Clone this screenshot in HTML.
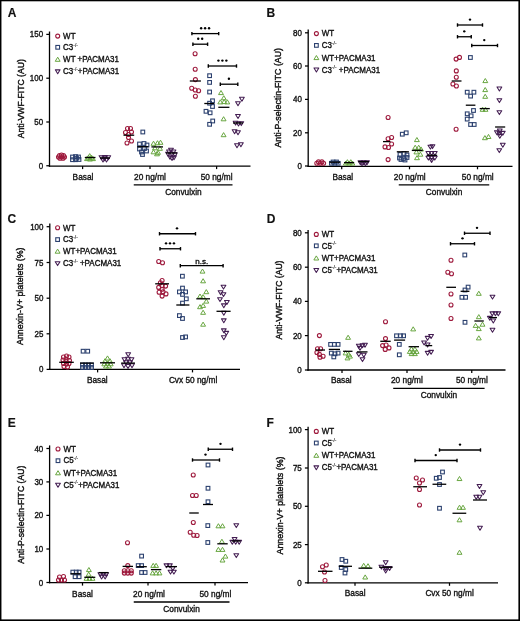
<!DOCTYPE html>
<html><head><meta charset="utf-8"><style>
html,body{margin:0;padding:0;background:#fff;}
svg{display:block;font-family:"Liberation Sans", sans-serif;}
text{-webkit-font-smoothing:antialiased;stroke:#111;stroke-width:0.34px;paint-order:stroke;}
</style></head><body>
<svg style="will-change:transform" width="520" height="621" viewBox="0 0 520 621">
<rect x="0" y="0" width="520" height="621" fill="#fff"/>
<text x="7.7" y="17.1" font-size="12" text-anchor="start" font-weight="bold" fill="#111" style="stroke-width:0.15px">A</text>
<line x1="49.5" y1="31.5" x2="49.5" y2="166.75" stroke="#000" stroke-width="1.3"/>
<line x1="46.3" y1="34.4" x2="49.5" y2="34.4" stroke="#000" stroke-width="1.25"/>
<text transform="translate(43.2,37.4) scale(1,1.09)" font-size="8" text-anchor="end" font-weight="normal" fill="#111">150</text>
<line x1="46.3" y1="78.2" x2="49.5" y2="78.2" stroke="#000" stroke-width="1.25"/>
<text transform="translate(43.2,81.2) scale(1,1.09)" font-size="8" text-anchor="end" font-weight="normal" fill="#111">100</text>
<line x1="46.3" y1="122" x2="49.5" y2="122" stroke="#000" stroke-width="1.25"/>
<text transform="translate(43.2,125) scale(1,1.09)" font-size="8" text-anchor="end" font-weight="normal" fill="#111">50</text>
<line x1="46.3" y1="165.75" x2="49.5" y2="165.75" stroke="#000" stroke-width="1.25"/>
<text transform="translate(43.2,168.75) scale(1,1.09)" font-size="8" text-anchor="end" font-weight="normal" fill="#111">0</text>
<line x1="48.85" y1="166.1" x2="250.5" y2="166.1" stroke="#000" stroke-width="1.3"/>
<line x1="82.6" y1="166.1" x2="82.6" y2="169.1" stroke="#000" stroke-width="1.25"/>
<line x1="150" y1="166.1" x2="150" y2="169.1" stroke="#000" stroke-width="1.25"/>
<line x1="216.6" y1="166.1" x2="216.6" y2="169.1" stroke="#000" stroke-width="1.25"/>
<text x="83" y="180" font-size="8.3" text-anchor="middle" font-weight="normal" fill="#111">Basal</text>
<text x="150" y="180" font-size="8.3" text-anchor="middle" font-weight="normal" fill="#111">20 ng/ml</text>
<text x="216.6" y="180" font-size="8.3" text-anchor="middle" font-weight="normal" fill="#111">50 ng/ml</text>
<line x1="133.75" y1="184.9" x2="232.5" y2="184.9" stroke="#000" stroke-width="1.3"/>
<text x="183.4" y="194.7" font-size="8.3" text-anchor="middle" font-weight="normal" fill="#111" textLength="36.5" lengthAdjust="spacingAndGlyphs">Convulxin</text>
<text transform="translate(23.7,98.7) rotate(-90)" font-size="9.5" text-anchor="middle" fill="#111" textLength="79" lengthAdjust="spacingAndGlyphs" style="stroke-width:0.42px">Anti-VWF-FITC (AU)</text>
<circle cx="57.7" cy="36.1" r="2.0" fill="none" stroke="#9e1a3d" stroke-width="1.1"/>
<text transform="translate(63.1,38.8) scale(1,1.1)" font-size="8" text-anchor="start" font-weight="normal" fill="#111">WT</text>
<rect x="55.85" y="45.45" width="3.7" height="3.7" fill="none" stroke="#2c416f" stroke-width="1.1"/>
<text transform="translate(63.1,50) scale(1,1.1)" font-size="8" text-anchor="start" font-weight="normal" fill="#111">C3<tspan font-size="4.8" dy="-3.1" style="stroke-width:0.1px">-/-</tspan></text>
<path d="M57.7 57.2L60.15 61.3L55.25 61.3Z" fill="none" stroke="#68a640" stroke-width="1.0" stroke-linejoin="round"/>
<text transform="translate(63.1,62.2) scale(1,1.1)" font-size="8" text-anchor="start" font-weight="normal" fill="#111">WT +PACMA31</text>
<path d="M55.3 69.85L60.1 69.85L57.7 73.8Z" fill="none" stroke="#431d52" stroke-width="1.05" stroke-linejoin="round"/>
<text transform="translate(63.1,74.3) scale(1,1.1)" font-size="8" text-anchor="start" font-weight="normal" fill="#111">C3<tspan font-size="4.8" dy="-3.1" style="stroke-width:0.1px">-/-</tspan><tspan dy="3.1">+PACMA31</tspan></text>
<circle cx="58.5" cy="157" r="2.0" fill="none" stroke="#9e1a3d" stroke-width="1.1"/>
<circle cx="61.5" cy="155" r="2.0" fill="none" stroke="#9e1a3d" stroke-width="1.1"/>
<circle cx="64.5" cy="157" r="2.0" fill="none" stroke="#9e1a3d" stroke-width="1.1"/>
<circle cx="60" cy="158.3" r="2.0" fill="none" stroke="#9e1a3d" stroke-width="1.1"/>
<circle cx="63" cy="158.3" r="2.0" fill="none" stroke="#9e1a3d" stroke-width="1.1"/>
<circle cx="61.5" cy="156.8" r="2.0" fill="none" stroke="#9e1a3d" stroke-width="1.1"/>
<circle cx="59.5" cy="155.5" r="2.0" fill="none" stroke="#9e1a3d" stroke-width="1.1"/>
<circle cx="63.5" cy="155.5" r="2.0" fill="none" stroke="#9e1a3d" stroke-width="1.1"/>
<rect x="70.65" y="155.15" width="3.7" height="3.7" fill="none" stroke="#2c416f" stroke-width="1.1"/>
<rect x="73.65" y="154.75" width="3.7" height="3.7" fill="none" stroke="#2c416f" stroke-width="1.1"/>
<rect x="76.65" y="155.15" width="3.7" height="3.7" fill="none" stroke="#2c416f" stroke-width="1.1"/>
<rect x="70.65" y="157.85" width="3.7" height="3.7" fill="none" stroke="#2c416f" stroke-width="1.1"/>
<rect x="73.65" y="157.85" width="3.7" height="3.7" fill="none" stroke="#2c416f" stroke-width="1.1"/>
<rect x="77.15" y="157.65" width="3.7" height="3.7" fill="none" stroke="#2c416f" stroke-width="1.1"/>
<rect x="74.65" y="156.35" width="3.7" height="3.7" fill="none" stroke="#2c416f" stroke-width="1.1"/>
<path d="M89.7 153.6L92.15 157.7L87.25 157.7Z" fill="none" stroke="#68a640" stroke-width="1.0" stroke-linejoin="round"/>
<path d="M87 156.5L89.45 160.6L84.55 160.6Z" fill="none" stroke="#68a640" stroke-width="1.0" stroke-linejoin="round"/>
<path d="M90 156.9L92.45 161L87.55 161Z" fill="none" stroke="#68a640" stroke-width="1.0" stroke-linejoin="round"/>
<path d="M93 156.5L95.45 160.6L90.55 160.6Z" fill="none" stroke="#68a640" stroke-width="1.0" stroke-linejoin="round"/>
<path d="M88.5 155.2L90.95 159.3L86.05 159.3Z" fill="none" stroke="#68a640" stroke-width="1.0" stroke-linejoin="round"/>
<path d="M91.5 155.2L93.95 159.3L89.05 159.3Z" fill="none" stroke="#68a640" stroke-width="1.0" stroke-linejoin="round"/>
<line x1="84.8" y1="157.5" x2="95.5" y2="157.5" stroke="#000" stroke-width="1.3"/>
<path d="M99.1 155.75L103.9 155.75L101.5 159.7Z" fill="none" stroke="#431d52" stroke-width="1.05" stroke-linejoin="round"/>
<path d="M102.6 155.55L107.4 155.55L105 159.5Z" fill="none" stroke="#431d52" stroke-width="1.05" stroke-linejoin="round"/>
<path d="M105.9 155.75L110.7 155.75L108.3 159.7Z" fill="none" stroke="#431d52" stroke-width="1.05" stroke-linejoin="round"/>
<path d="M100.6 158.05L105.4 158.05L103 162Z" fill="none" stroke="#431d52" stroke-width="1.05" stroke-linejoin="round"/>
<path d="M104.1 158.05L108.9 158.05L106.5 162Z" fill="none" stroke="#431d52" stroke-width="1.05" stroke-linejoin="round"/>
<path d="M102.1 156.75L106.9 156.75L104.5 160.7Z" fill="none" stroke="#431d52" stroke-width="1.05" stroke-linejoin="round"/>
<line x1="100" y1="158" x2="110" y2="158" stroke="#000" stroke-width="1.3"/>
<circle cx="127.5" cy="128.5" r="2.0" fill="none" stroke="#9e1a3d" stroke-width="1.1"/>
<circle cx="130.5" cy="128.5" r="2.0" fill="none" stroke="#9e1a3d" stroke-width="1.1"/>
<circle cx="125.5" cy="132.5" r="2.0" fill="none" stroke="#9e1a3d" stroke-width="1.1"/>
<circle cx="131.5" cy="132" r="2.0" fill="none" stroke="#9e1a3d" stroke-width="1.1"/>
<circle cx="128.5" cy="134.5" r="2.0" fill="none" stroke="#9e1a3d" stroke-width="1.1"/>
<circle cx="128.5" cy="137.5" r="2.0" fill="none" stroke="#9e1a3d" stroke-width="1.1"/>
<circle cx="127" cy="143" r="2.0" fill="none" stroke="#9e1a3d" stroke-width="1.1"/>
<circle cx="131.5" cy="141" r="2.0" fill="none" stroke="#9e1a3d" stroke-width="1.1"/>
<line x1="123.5" y1="135.2" x2="134.2" y2="135.2" stroke="#000" stroke-width="1.3"/>
<rect x="140.95" y="130.15" width="3.7" height="3.7" fill="none" stroke="#2c416f" stroke-width="1.1"/>
<rect x="137.65" y="142.15" width="3.7" height="3.7" fill="none" stroke="#2c416f" stroke-width="1.1"/>
<rect x="142.15" y="141.65" width="3.7" height="3.7" fill="none" stroke="#2c416f" stroke-width="1.1"/>
<rect x="145.15" y="143.15" width="3.7" height="3.7" fill="none" stroke="#2c416f" stroke-width="1.1"/>
<rect x="137.65" y="147.15" width="3.7" height="3.7" fill="none" stroke="#2c416f" stroke-width="1.1"/>
<rect x="142.65" y="146.65" width="3.7" height="3.7" fill="none" stroke="#2c416f" stroke-width="1.1"/>
<rect x="139.65" y="150.15" width="3.7" height="3.7" fill="none" stroke="#2c416f" stroke-width="1.1"/>
<rect x="144.65" y="149.15" width="3.7" height="3.7" fill="none" stroke="#2c416f" stroke-width="1.1"/>
<rect x="140.65" y="152.65" width="3.7" height="3.7" fill="none" stroke="#2c416f" stroke-width="1.1"/>
<line x1="137.2" y1="146.7" x2="148.5" y2="146.7" stroke="#000" stroke-width="1.3"/>
<path d="M153.5 141.2L155.95 145.3L151.05 145.3Z" fill="none" stroke="#68a640" stroke-width="1.0" stroke-linejoin="round"/>
<path d="M157.5 140.7L159.95 144.8L155.05 144.8Z" fill="none" stroke="#68a640" stroke-width="1.0" stroke-linejoin="round"/>
<path d="M160.5 140.2L162.95 144.3L158.05 144.3Z" fill="none" stroke="#68a640" stroke-width="1.0" stroke-linejoin="round"/>
<path d="M155 145.7L157.45 149.8L152.55 149.8Z" fill="none" stroke="#68a640" stroke-width="1.0" stroke-linejoin="round"/>
<path d="M160 146.2L162.45 150.3L157.55 150.3Z" fill="none" stroke="#68a640" stroke-width="1.0" stroke-linejoin="round"/>
<path d="M153.5 149.7L155.95 153.8L151.05 153.8Z" fill="none" stroke="#68a640" stroke-width="1.0" stroke-linejoin="round"/>
<path d="M158 150.2L160.45 154.3L155.55 154.3Z" fill="none" stroke="#68a640" stroke-width="1.0" stroke-linejoin="round"/>
<path d="M157 151.7L159.45 155.8L154.55 155.8Z" fill="none" stroke="#68a640" stroke-width="1.0" stroke-linejoin="round"/>
<line x1="151.4" y1="146.9" x2="163" y2="146.9" stroke="#000" stroke-width="1.3"/>
<path d="M168.6 148.25L173.4 148.25L171 152.2Z" fill="none" stroke="#431d52" stroke-width="1.05" stroke-linejoin="round"/>
<path d="M166.6 150.05L171.4 150.05L169 154Z" fill="none" stroke="#431d52" stroke-width="1.05" stroke-linejoin="round"/>
<path d="M171.1 150.05L175.9 150.05L173.5 154Z" fill="none" stroke="#431d52" stroke-width="1.05" stroke-linejoin="round"/>
<path d="M165.6 152.25L170.4 152.25L168 156.2Z" fill="none" stroke="#431d52" stroke-width="1.05" stroke-linejoin="round"/>
<path d="M169.6 152.25L174.4 152.25L172 156.2Z" fill="none" stroke="#431d52" stroke-width="1.05" stroke-linejoin="round"/>
<path d="M172.6 152.75L177.4 152.75L175 156.7Z" fill="none" stroke="#431d52" stroke-width="1.05" stroke-linejoin="round"/>
<path d="M167.6 155.25L172.4 155.25L170 159.2Z" fill="none" stroke="#431d52" stroke-width="1.05" stroke-linejoin="round"/>
<path d="M171.6 155.75L176.4 155.75L174 159.7Z" fill="none" stroke="#431d52" stroke-width="1.05" stroke-linejoin="round"/>
<path d="M169.6 156.45L174.4 156.45L172 160.4Z" fill="none" stroke="#431d52" stroke-width="1.05" stroke-linejoin="round"/>
<line x1="166" y1="153" x2="177" y2="153" stroke="#000" stroke-width="1.3"/>
<circle cx="195.1" cy="53.8" r="2.0" fill="none" stroke="#9e1a3d" stroke-width="1.1"/>
<circle cx="195.2" cy="69.2" r="2.0" fill="none" stroke="#9e1a3d" stroke-width="1.1"/>
<circle cx="195.4" cy="79.6" r="2.0" fill="none" stroke="#9e1a3d" stroke-width="1.1"/>
<circle cx="191.7" cy="88.2" r="2.0" fill="none" stroke="#9e1a3d" stroke-width="1.1"/>
<circle cx="195.2" cy="90" r="2.0" fill="none" stroke="#9e1a3d" stroke-width="1.1"/>
<circle cx="198.6" cy="90.8" r="2.0" fill="none" stroke="#9e1a3d" stroke-width="1.1"/>
<circle cx="195.4" cy="96.2" r="2.0" fill="none" stroke="#9e1a3d" stroke-width="1.1"/>
<line x1="189.8" y1="81" x2="200.9" y2="81" stroke="#000" stroke-width="1.3"/>
<rect x="207.75" y="73.85" width="3.7" height="3.7" fill="none" stroke="#2c416f" stroke-width="1.1"/>
<rect x="207.75" y="80.55" width="3.7" height="3.7" fill="none" stroke="#2c416f" stroke-width="1.1"/>
<rect x="207.75" y="90.15" width="3.7" height="3.7" fill="none" stroke="#2c416f" stroke-width="1.1"/>
<rect x="210.65" y="98.95" width="3.7" height="3.7" fill="none" stroke="#2c416f" stroke-width="1.1"/>
<rect x="207.75" y="101.35" width="3.7" height="3.7" fill="none" stroke="#2c416f" stroke-width="1.1"/>
<rect x="210.65" y="104.65" width="3.7" height="3.7" fill="none" stroke="#2c416f" stroke-width="1.1"/>
<rect x="204.15" y="109.45" width="3.7" height="3.7" fill="none" stroke="#2c416f" stroke-width="1.1"/>
<rect x="208.25" y="110.95" width="3.7" height="3.7" fill="none" stroke="#2c416f" stroke-width="1.1"/>
<rect x="210.85" y="119.15" width="3.7" height="3.7" fill="none" stroke="#2c416f" stroke-width="1.1"/>
<rect x="207.75" y="122.45" width="3.7" height="3.7" fill="none" stroke="#2c416f" stroke-width="1.1"/>
<line x1="204.3" y1="103.5" x2="214.4" y2="103.5" stroke="#000" stroke-width="1.3"/>
<path d="M221 90.5L223.45 94.6L218.55 94.6Z" fill="none" stroke="#68a640" stroke-width="1.0" stroke-linejoin="round"/>
<path d="M223.8 95.7L226.25 99.8L221.35 99.8Z" fill="none" stroke="#68a640" stroke-width="1.0" stroke-linejoin="round"/>
<path d="M220.3 99.8L222.75 103.9L217.85 103.9Z" fill="none" stroke="#68a640" stroke-width="1.0" stroke-linejoin="round"/>
<path d="M227.3 99.8L229.75 103.9L224.85 103.9Z" fill="none" stroke="#68a640" stroke-width="1.0" stroke-linejoin="round"/>
<path d="M224.2 99.5L226.65 103.6L221.75 103.6Z" fill="none" stroke="#68a640" stroke-width="1.0" stroke-linejoin="round"/>
<path d="M223.6 116.7L226.05 120.8L221.15 120.8Z" fill="none" stroke="#68a640" stroke-width="1.0" stroke-linejoin="round"/>
<path d="M223.6 132.6L226.05 136.7L221.15 136.7Z" fill="none" stroke="#68a640" stroke-width="1.0" stroke-linejoin="round"/>
<line x1="218.3" y1="107.3" x2="229.4" y2="107.3" stroke="#000" stroke-width="1.3"/>
<path d="M239.5 97.25L244.3 97.25L241.9 101.2Z" fill="none" stroke="#431d52" stroke-width="1.05" stroke-linejoin="round"/>
<path d="M235.6 101.75L240.4 101.75L238 105.7Z" fill="none" stroke="#431d52" stroke-width="1.05" stroke-linejoin="round"/>
<path d="M235.6 114.45L240.4 114.45L238 118.4Z" fill="none" stroke="#431d52" stroke-width="1.05" stroke-linejoin="round"/>
<path d="M233.2 121.15L238 121.15L235.6 125.1Z" fill="none" stroke="#431d52" stroke-width="1.05" stroke-linejoin="round"/>
<path d="M236.1 122.05L240.9 122.05L238.5 126Z" fill="none" stroke="#431d52" stroke-width="1.05" stroke-linejoin="round"/>
<path d="M238.9 121.65L243.7 121.65L241.3 125.6Z" fill="none" stroke="#431d52" stroke-width="1.05" stroke-linejoin="round"/>
<path d="M232.2 129.75L237 129.75L234.6 133.7Z" fill="none" stroke="#431d52" stroke-width="1.05" stroke-linejoin="round"/>
<path d="M235.6 130.75L240.4 130.75L238 134.7Z" fill="none" stroke="#431d52" stroke-width="1.05" stroke-linejoin="round"/>
<path d="M234.6 143.75L239.4 143.75L237 147.7Z" fill="none" stroke="#431d52" stroke-width="1.05" stroke-linejoin="round"/>
<path d="M238.5 142.75L243.3 142.75L240.9 146.7Z" fill="none" stroke="#431d52" stroke-width="1.05" stroke-linejoin="round"/>
<line x1="233" y1="123" x2="243" y2="123" stroke="#000" stroke-width="1.3"/>
<line x1="191.9" y1="33.6" x2="218.7" y2="33.6" stroke="#000" stroke-width="1.3"/>
<line x1="191.9" y1="31.9" x2="191.9" y2="35.3" stroke="#000" stroke-width="1.4"/>
<line x1="218.7" y1="31.9" x2="218.7" y2="35.3" stroke="#000" stroke-width="1.4"/>
<circle cx="201.15" cy="28.2" r="1.2" fill="#000"/>
<circle cx="205.1" cy="28.2" r="1.2" fill="#000"/>
<circle cx="209.05" cy="28.2" r="1.2" fill="#000"/>
<line x1="192.9" y1="44.2" x2="207.6" y2="44.2" stroke="#000" stroke-width="1.3"/>
<line x1="192.9" y1="42.5" x2="192.9" y2="45.9" stroke="#000" stroke-width="1.4"/>
<line x1="207.6" y1="42.5" x2="207.6" y2="45.9" stroke="#000" stroke-width="1.4"/>
<circle cx="198.22" cy="38.8" r="1.2" fill="#000"/>
<circle cx="202.17" cy="38.8" r="1.2" fill="#000"/>
<line x1="208.3" y1="66" x2="236.5" y2="66" stroke="#000" stroke-width="1.3"/>
<line x1="208.3" y1="64.3" x2="208.3" y2="67.7" stroke="#000" stroke-width="1.4"/>
<line x1="236.5" y1="64.3" x2="236.5" y2="67.7" stroke="#000" stroke-width="1.4"/>
<circle cx="218.45" cy="60.6" r="1.2" fill="#000"/>
<circle cx="222.4" cy="60.6" r="1.2" fill="#000"/>
<circle cx="226.35" cy="60.6" r="1.2" fill="#000"/>
<line x1="220.3" y1="84.2" x2="237.8" y2="84.2" stroke="#000" stroke-width="1.3"/>
<line x1="220.3" y1="82.5" x2="220.3" y2="85.9" stroke="#000" stroke-width="1.4"/>
<line x1="237.8" y1="82.5" x2="237.8" y2="85.9" stroke="#000" stroke-width="1.4"/>
<circle cx="228.9" cy="78.8" r="1.2" fill="#000"/>
<text x="266.6" y="17.4" font-size="12" text-anchor="start" font-weight="bold" fill="#111" style="stroke-width:0.15px">B</text>
<line x1="308.2" y1="29.6" x2="308.2" y2="166.95" stroke="#000" stroke-width="1.3"/>
<line x1="305" y1="32.8" x2="308.2" y2="32.8" stroke="#000" stroke-width="1.25"/>
<text transform="translate(301.9,35.8) scale(1,1.09)" font-size="8" text-anchor="end" font-weight="normal" fill="#111">80</text>
<line x1="305" y1="66" x2="308.2" y2="66" stroke="#000" stroke-width="1.25"/>
<text transform="translate(301.9,69) scale(1,1.09)" font-size="8" text-anchor="end" font-weight="normal" fill="#111">60</text>
<line x1="305" y1="99.4" x2="308.2" y2="99.4" stroke="#000" stroke-width="1.25"/>
<text transform="translate(301.9,102.4) scale(1,1.09)" font-size="8" text-anchor="end" font-weight="normal" fill="#111">40</text>
<line x1="305" y1="132.8" x2="308.2" y2="132.8" stroke="#000" stroke-width="1.25"/>
<text transform="translate(301.9,135.8) scale(1,1.09)" font-size="8" text-anchor="end" font-weight="normal" fill="#111">20</text>
<line x1="305" y1="166" x2="308.2" y2="166" stroke="#000" stroke-width="1.25"/>
<text transform="translate(301.9,169) scale(1,1.09)" font-size="8" text-anchor="end" font-weight="normal" fill="#111">0</text>
<line x1="307.55" y1="166.3" x2="512.5" y2="166.3" stroke="#000" stroke-width="1.3"/>
<line x1="341.7" y1="166.3" x2="341.7" y2="169.3" stroke="#000" stroke-width="1.25"/>
<line x1="409.5" y1="166.3" x2="409.5" y2="169.3" stroke="#000" stroke-width="1.25"/>
<line x1="477.5" y1="166.3" x2="477.5" y2="169.3" stroke="#000" stroke-width="1.25"/>
<text x="342.8" y="180" font-size="8.3" text-anchor="middle" font-weight="normal" fill="#111">Basal</text>
<text x="409.75" y="180" font-size="8.3" text-anchor="middle" font-weight="normal" fill="#111">20 ng/ml</text>
<text x="477.75" y="180" font-size="8.3" text-anchor="middle" font-weight="normal" fill="#111">50 ng/ml</text>
<line x1="398.75" y1="184.9" x2="489.25" y2="184.9" stroke="#000" stroke-width="1.3"/>
<text x="444.1" y="194.7" font-size="8.3" text-anchor="middle" font-weight="normal" fill="#111" textLength="36.5" lengthAdjust="spacingAndGlyphs">Convulxin</text>
<text transform="translate(281.4,97.8) rotate(-90)" font-size="9.5" text-anchor="middle" fill="#111" textLength="99.5" lengthAdjust="spacingAndGlyphs" style="stroke-width:0.42px">Anti-P-selectin-FITC (AU)</text>
<circle cx="316.4" cy="33.6" r="2.0" fill="none" stroke="#9e1a3d" stroke-width="1.1"/>
<text transform="translate(321.8,36.3) scale(1,1.1)" font-size="8" text-anchor="start" font-weight="normal" fill="#111">WT</text>
<rect x="314.55" y="43.55" width="3.7" height="3.7" fill="none" stroke="#2c416f" stroke-width="1.1"/>
<text transform="translate(321.8,48.1) scale(1,1.1)" font-size="8" text-anchor="start" font-weight="normal" fill="#111">C3<tspan font-size="4.8" dy="-3.1" style="stroke-width:0.1px">-/-</tspan></text>
<path d="M316.4 55.5L318.85 59.6L313.95 59.6Z" fill="none" stroke="#68a640" stroke-width="1.0" stroke-linejoin="round"/>
<text transform="translate(321.8,60.5) scale(1,1.1)" font-size="8" text-anchor="start" font-weight="normal" fill="#111">WT+PACMA31</text>
<path d="M314 68.05L318.8 68.05L316.4 72Z" fill="none" stroke="#431d52" stroke-width="1.05" stroke-linejoin="round"/>
<text transform="translate(321.8,72.5) scale(1,1.1)" font-size="8" text-anchor="start" font-weight="normal" fill="#111">C3<tspan font-size="4.8" dy="-3.1" style="stroke-width:0.1px">-/-</tspan><tspan dy="3.1"> +PACMA31</tspan></text>
<circle cx="316.8" cy="163.3" r="2.0" fill="none" stroke="#9e1a3d" stroke-width="1.1"/>
<circle cx="320.2" cy="163.3" r="2.0" fill="none" stroke="#9e1a3d" stroke-width="1.1"/>
<circle cx="323.6" cy="163.3" r="2.0" fill="none" stroke="#9e1a3d" stroke-width="1.1"/>
<circle cx="318.5" cy="161.9" r="2.0" fill="none" stroke="#9e1a3d" stroke-width="1.1"/>
<circle cx="321.9" cy="161.9" r="2.0" fill="none" stroke="#9e1a3d" stroke-width="1.1"/>
<rect x="329.55" y="161.45" width="3.7" height="3.7" fill="none" stroke="#2c416f" stroke-width="1.1"/>
<rect x="332.95" y="161.45" width="3.7" height="3.7" fill="none" stroke="#2c416f" stroke-width="1.1"/>
<rect x="336.35" y="161.45" width="3.7" height="3.7" fill="none" stroke="#2c416f" stroke-width="1.1"/>
<rect x="331.25" y="160.15" width="3.7" height="3.7" fill="none" stroke="#2c416f" stroke-width="1.1"/>
<rect x="334.65" y="160.15" width="3.7" height="3.7" fill="none" stroke="#2c416f" stroke-width="1.1"/>
<line x1="329.5" y1="162.2" x2="340.2" y2="162.2" stroke="#000" stroke-width="1.3"/>
<path d="M345.8 161L348.25 165.1L343.35 165.1Z" fill="none" stroke="#68a640" stroke-width="1.0" stroke-linejoin="round"/>
<path d="M349.1 161L351.55 165.1L346.65 165.1Z" fill="none" stroke="#68a640" stroke-width="1.0" stroke-linejoin="round"/>
<path d="M352.4 161L354.85 165.1L349.95 165.1Z" fill="none" stroke="#68a640" stroke-width="1.0" stroke-linejoin="round"/>
<path d="M347.4 159.7L349.85 163.8L344.95 163.8Z" fill="none" stroke="#68a640" stroke-width="1.0" stroke-linejoin="round"/>
<path d="M350.8 159.7L353.25 163.8L348.35 163.8Z" fill="none" stroke="#68a640" stroke-width="1.0" stroke-linejoin="round"/>
<line x1="344" y1="162.6" x2="354.2" y2="162.6" stroke="#000" stroke-width="1.3"/>
<path d="M358 160.85L362.8 160.85L360.4 164.8Z" fill="none" stroke="#431d52" stroke-width="1.05" stroke-linejoin="round"/>
<path d="M361.3 160.85L366.1 160.85L363.7 164.8Z" fill="none" stroke="#431d52" stroke-width="1.05" stroke-linejoin="round"/>
<path d="M364.6 160.85L369.4 160.85L367 164.8Z" fill="none" stroke="#431d52" stroke-width="1.05" stroke-linejoin="round"/>
<path d="M359.6 161.85L364.4 161.85L362 165.8Z" fill="none" stroke="#431d52" stroke-width="1.05" stroke-linejoin="round"/>
<path d="M363 161.85L367.8 161.85L365.4 165.8Z" fill="none" stroke="#431d52" stroke-width="1.05" stroke-linejoin="round"/>
<line x1="358.3" y1="161.6" x2="369.1" y2="161.6" stroke="#000" stroke-width="1.3"/>
<circle cx="388.1" cy="117.5" r="2.0" fill="none" stroke="#9e1a3d" stroke-width="1.1"/>
<circle cx="391.6" cy="137.5" r="2.0" fill="none" stroke="#9e1a3d" stroke-width="1.1"/>
<circle cx="388.1" cy="138.8" r="2.0" fill="none" stroke="#9e1a3d" stroke-width="1.1"/>
<circle cx="391.6" cy="144" r="2.0" fill="none" stroke="#9e1a3d" stroke-width="1.1"/>
<circle cx="385" cy="146.9" r="2.0" fill="none" stroke="#9e1a3d" stroke-width="1.1"/>
<circle cx="388.5" cy="147.5" r="2.0" fill="none" stroke="#9e1a3d" stroke-width="1.1"/>
<circle cx="388.1" cy="159.6" r="2.0" fill="none" stroke="#9e1a3d" stroke-width="1.1"/>
<line x1="383" y1="141.6" x2="390.5" y2="141.6" stroke="#000" stroke-width="1.3"/>
<rect x="400.45" y="132.35" width="3.7" height="3.7" fill="none" stroke="#2c416f" stroke-width="1.1"/>
<rect x="404.35" y="130.95" width="3.7" height="3.7" fill="none" stroke="#2c416f" stroke-width="1.1"/>
<rect x="398.15" y="152.65" width="3.7" height="3.7" fill="none" stroke="#2c416f" stroke-width="1.1"/>
<rect x="402.15" y="151.65" width="3.7" height="3.7" fill="none" stroke="#2c416f" stroke-width="1.1"/>
<rect x="405.15" y="153.15" width="3.7" height="3.7" fill="none" stroke="#2c416f" stroke-width="1.1"/>
<rect x="397.65" y="156.15" width="3.7" height="3.7" fill="none" stroke="#2c416f" stroke-width="1.1"/>
<rect x="401.65" y="156.65" width="3.7" height="3.7" fill="none" stroke="#2c416f" stroke-width="1.1"/>
<rect x="405.15" y="155.65" width="3.7" height="3.7" fill="none" stroke="#2c416f" stroke-width="1.1"/>
<rect x="399.15" y="157.65" width="3.7" height="3.7" fill="none" stroke="#2c416f" stroke-width="1.1"/>
<rect x="403.15" y="158.15" width="3.7" height="3.7" fill="none" stroke="#2c416f" stroke-width="1.1"/>
<line x1="396.8" y1="151.8" x2="408.9" y2="151.8" stroke="#000" stroke-width="1.3"/>
<path d="M416.9 137.5L419.35 141.6L414.45 141.6Z" fill="none" stroke="#68a640" stroke-width="1.0" stroke-linejoin="round"/>
<path d="M415.2 145.2L417.65 149.3L412.75 149.3Z" fill="none" stroke="#68a640" stroke-width="1.0" stroke-linejoin="round"/>
<path d="M418.7 145.2L421.15 149.3L416.25 149.3Z" fill="none" stroke="#68a640" stroke-width="1.0" stroke-linejoin="round"/>
<path d="M421 146.9L423.45 151L418.55 151Z" fill="none" stroke="#68a640" stroke-width="1.0" stroke-linejoin="round"/>
<path d="M416.4 149.8L418.85 153.9L413.95 153.9Z" fill="none" stroke="#68a640" stroke-width="1.0" stroke-linejoin="round"/>
<path d="M420.4 152.1L422.85 156.2L417.95 156.2Z" fill="none" stroke="#68a640" stroke-width="1.0" stroke-linejoin="round"/>
<path d="M417 155.6L419.45 159.7L414.55 159.7Z" fill="none" stroke="#68a640" stroke-width="1.0" stroke-linejoin="round"/>
<line x1="411.8" y1="150.4" x2="422.7" y2="150.4" stroke="#000" stroke-width="1.3"/>
<path d="M428 145.15L432.8 145.15L430.4 149.1Z" fill="none" stroke="#431d52" stroke-width="1.05" stroke-linejoin="round"/>
<path d="M430.1 144.65L434.9 144.65L432.5 148.6Z" fill="none" stroke="#431d52" stroke-width="1.05" stroke-linejoin="round"/>
<path d="M426 151.55L430.8 151.55L428.4 155.5Z" fill="none" stroke="#431d52" stroke-width="1.05" stroke-linejoin="round"/>
<path d="M429.2 151.55L434 151.55L431.6 155.5Z" fill="none" stroke="#431d52" stroke-width="1.05" stroke-linejoin="round"/>
<path d="M432.4 151.55L437.2 151.55L434.8 155.5Z" fill="none" stroke="#431d52" stroke-width="1.05" stroke-linejoin="round"/>
<path d="M426 156.15L430.8 156.15L428.4 160.1Z" fill="none" stroke="#431d52" stroke-width="1.05" stroke-linejoin="round"/>
<path d="M429.2 156.15L434 156.15L431.6 160.1Z" fill="none" stroke="#431d52" stroke-width="1.05" stroke-linejoin="round"/>
<path d="M432.4 156.15L437.2 156.15L434.8 160.1Z" fill="none" stroke="#431d52" stroke-width="1.05" stroke-linejoin="round"/>
<path d="M429.2 158.45L434 158.45L431.6 162.4Z" fill="none" stroke="#431d52" stroke-width="1.05" stroke-linejoin="round"/>
<line x1="426.7" y1="155.3" x2="437.1" y2="155.3" stroke="#000" stroke-width="1.3"/>
<circle cx="456.1" cy="59.1" r="2.0" fill="none" stroke="#9e1a3d" stroke-width="1.1"/>
<circle cx="459.5" cy="57.4" r="2.0" fill="none" stroke="#9e1a3d" stroke-width="1.1"/>
<circle cx="456.3" cy="70.9" r="2.0" fill="none" stroke="#9e1a3d" stroke-width="1.1"/>
<circle cx="456.3" cy="77.3" r="2.0" fill="none" stroke="#9e1a3d" stroke-width="1.1"/>
<circle cx="452.9" cy="84" r="2.0" fill="none" stroke="#9e1a3d" stroke-width="1.1"/>
<circle cx="456.4" cy="86" r="2.0" fill="none" stroke="#9e1a3d" stroke-width="1.1"/>
<circle cx="456.1" cy="129.3" r="2.0" fill="none" stroke="#9e1a3d" stroke-width="1.1"/>
<line x1="451.7" y1="81" x2="461.5" y2="81" stroke="#000" stroke-width="1.3"/>
<rect x="468.55" y="55.65" width="3.7" height="3.7" fill="none" stroke="#2c416f" stroke-width="1.1"/>
<rect x="465.35" y="90.35" width="3.7" height="3.7" fill="none" stroke="#2c416f" stroke-width="1.1"/>
<rect x="472.05" y="90.35" width="3.7" height="3.7" fill="none" stroke="#2c416f" stroke-width="1.1"/>
<rect x="468.75" y="94.25" width="3.7" height="3.7" fill="none" stroke="#2c416f" stroke-width="1.1"/>
<rect x="471.65" y="108.65" width="3.7" height="3.7" fill="none" stroke="#2c416f" stroke-width="1.1"/>
<rect x="465.35" y="111.95" width="3.7" height="3.7" fill="none" stroke="#2c416f" stroke-width="1.1"/>
<rect x="469.25" y="113.95" width="3.7" height="3.7" fill="none" stroke="#2c416f" stroke-width="1.1"/>
<rect x="465.35" y="117.25" width="3.7" height="3.7" fill="none" stroke="#2c416f" stroke-width="1.1"/>
<rect x="468.75" y="122.65" width="3.7" height="3.7" fill="none" stroke="#2c416f" stroke-width="1.1"/>
<rect x="472.35" y="122.65" width="3.7" height="3.7" fill="none" stroke="#2c416f" stroke-width="1.1"/>
<line x1="465.8" y1="105.2" x2="475.4" y2="105.2" stroke="#000" stroke-width="1.3"/>
<path d="M485.3 78.5L487.75 82.6L482.85 82.6Z" fill="none" stroke="#68a640" stroke-width="1.0" stroke-linejoin="round"/>
<path d="M485.2 87.5L487.65 91.6L482.75 91.6Z" fill="none" stroke="#68a640" stroke-width="1.0" stroke-linejoin="round"/>
<path d="M485.2 94.2L487.65 98.3L482.75 98.3Z" fill="none" stroke="#68a640" stroke-width="1.0" stroke-linejoin="round"/>
<path d="M482.6 107.2L485.05 111.3L480.15 111.3Z" fill="none" stroke="#68a640" stroke-width="1.0" stroke-linejoin="round"/>
<path d="M485.5 107.2L487.95 111.3L483.05 111.3Z" fill="none" stroke="#68a640" stroke-width="1.0" stroke-linejoin="round"/>
<path d="M484.9 135.6L487.35 139.7L482.45 139.7Z" fill="none" stroke="#68a640" stroke-width="1.0" stroke-linejoin="round"/>
<path d="M488.5 134.4L490.95 138.5L486.05 138.5Z" fill="none" stroke="#68a640" stroke-width="1.0" stroke-linejoin="round"/>
<line x1="479.7" y1="108.6" x2="489.8" y2="108.6" stroke="#000" stroke-width="1.3"/>
<path d="M497 87.05L501.8 87.05L499.4 91Z" fill="none" stroke="#431d52" stroke-width="1.05" stroke-linejoin="round"/>
<path d="M497 98.65L501.8 98.65L499.4 102.6Z" fill="none" stroke="#431d52" stroke-width="1.05" stroke-linejoin="round"/>
<path d="M497 110.65L501.8 110.65L499.4 114.6Z" fill="none" stroke="#431d52" stroke-width="1.05" stroke-linejoin="round"/>
<path d="M494.5 130.75L499.3 130.75L496.9 134.7Z" fill="none" stroke="#431d52" stroke-width="1.05" stroke-linejoin="round"/>
<path d="M497.4 128.95L502.2 128.95L499.8 132.9Z" fill="none" stroke="#431d52" stroke-width="1.05" stroke-linejoin="round"/>
<path d="M500.4 131.35L505.2 131.35L502.8 135.3Z" fill="none" stroke="#431d52" stroke-width="1.05" stroke-linejoin="round"/>
<path d="M496.9 131.35L501.7 131.35L499.3 135.3Z" fill="none" stroke="#431d52" stroke-width="1.05" stroke-linejoin="round"/>
<path d="M497.4 134.35L502.2 134.35L499.8 138.3Z" fill="none" stroke="#431d52" stroke-width="1.05" stroke-linejoin="round"/>
<path d="M500.4 143.25L505.2 143.25L502.8 147.2Z" fill="none" stroke="#431d52" stroke-width="1.05" stroke-linejoin="round"/>
<path d="M496.9 148.65L501.7 148.65L499.3 152.6Z" fill="none" stroke="#431d52" stroke-width="1.05" stroke-linejoin="round"/>
<line x1="495.1" y1="127" x2="505.2" y2="127" stroke="#000" stroke-width="1.3"/>
<line x1="457.5" y1="25" x2="482.5" y2="25" stroke="#000" stroke-width="1.3"/>
<line x1="457.5" y1="23.3" x2="457.5" y2="26.7" stroke="#000" stroke-width="1.4"/>
<line x1="482.5" y1="23.3" x2="482.5" y2="26.7" stroke="#000" stroke-width="1.4"/>
<circle cx="470" cy="19.6" r="1.2" fill="#000"/>
<line x1="457.5" y1="36.75" x2="471.25" y2="36.75" stroke="#000" stroke-width="1.3"/>
<line x1="457.5" y1="35.05" x2="457.5" y2="38.45" stroke="#000" stroke-width="1.4"/>
<line x1="471.25" y1="35.05" x2="471.25" y2="38.45" stroke="#000" stroke-width="1.4"/>
<circle cx="464.25" cy="31.35" r="1.2" fill="#000"/>
<line x1="471.75" y1="45.5" x2="497.5" y2="45.5" stroke="#000" stroke-width="1.3"/>
<line x1="471.75" y1="43.8" x2="471.75" y2="47.2" stroke="#000" stroke-width="1.4"/>
<line x1="497.5" y1="43.8" x2="497.5" y2="47.2" stroke="#000" stroke-width="1.4"/>
<circle cx="484.25" cy="40.1" r="1.2" fill="#000"/>
<text x="7.6" y="223" font-size="12" text-anchor="start" font-weight="bold" fill="#111" style="stroke-width:0.15px">C</text>
<line x1="49.8" y1="223.4" x2="49.8" y2="370.05" stroke="#000" stroke-width="1.3"/>
<line x1="46.6" y1="226.7" x2="49.8" y2="226.7" stroke="#000" stroke-width="1.25"/>
<text transform="translate(43.5,229.7) scale(1,1.09)" font-size="8" text-anchor="end" font-weight="normal" fill="#111">100</text>
<line x1="46.6" y1="262.5" x2="49.8" y2="262.5" stroke="#000" stroke-width="1.25"/>
<text transform="translate(43.5,265.5) scale(1,1.09)" font-size="8" text-anchor="end" font-weight="normal" fill="#111">75</text>
<line x1="46.6" y1="298.2" x2="49.8" y2="298.2" stroke="#000" stroke-width="1.25"/>
<text transform="translate(43.5,301.2) scale(1,1.09)" font-size="8" text-anchor="end" font-weight="normal" fill="#111">50</text>
<line x1="46.6" y1="333.8" x2="49.8" y2="333.8" stroke="#000" stroke-width="1.25"/>
<text transform="translate(43.5,336.8) scale(1,1.09)" font-size="8" text-anchor="end" font-weight="normal" fill="#111">25</text>
<line x1="46.6" y1="369.4" x2="49.8" y2="369.4" stroke="#000" stroke-width="1.25"/>
<text transform="translate(43.5,372.4) scale(1,1.09)" font-size="8" text-anchor="end" font-weight="normal" fill="#111">0</text>
<line x1="49.15" y1="369.4" x2="240" y2="369.4" stroke="#000" stroke-width="1.3"/>
<line x1="97.6" y1="369.4" x2="97.6" y2="372.4" stroke="#000" stroke-width="1.25"/>
<line x1="192.5" y1="369.4" x2="192.5" y2="372.4" stroke="#000" stroke-width="1.25"/>
<text x="97.3" y="383.3" font-size="8.3" text-anchor="middle" font-weight="normal" fill="#111">Basal</text>
<text x="193.1" y="383.3" font-size="8.3" text-anchor="middle" font-weight="normal" fill="#111">Cvx 50 ng/ml</text>
<text transform="translate(23.4,296.2) rotate(-90)" font-size="9.5" text-anchor="middle" fill="#111" textLength="97.5" lengthAdjust="spacingAndGlyphs" style="stroke-width:0.42px">Annexin-V+ platelets (%)</text>
<circle cx="57.6" cy="227.8" r="2.0" fill="none" stroke="#9e1a3d" stroke-width="1.1"/>
<text transform="translate(63,230.5) scale(1,1.1)" font-size="8" text-anchor="start" font-weight="normal" fill="#111">WT</text>
<rect x="55.75" y="237.75" width="3.7" height="3.7" fill="none" stroke="#2c416f" stroke-width="1.1"/>
<text transform="translate(63,242.3) scale(1,1.1)" font-size="8" text-anchor="start" font-weight="normal" fill="#111">C3<tspan font-size="4.8" dy="-3.1" style="stroke-width:0.1px">-/-</tspan></text>
<path d="M57.6 249.1L60.05 253.2L55.15 253.2Z" fill="none" stroke="#68a640" stroke-width="1.0" stroke-linejoin="round"/>
<text transform="translate(63,254.1) scale(1,1.1)" font-size="8" text-anchor="start" font-weight="normal" fill="#111">WT+PACMA31</text>
<path d="M55.2 261.65L60 261.65L57.6 265.6Z" fill="none" stroke="#431d52" stroke-width="1.05" stroke-linejoin="round"/>
<text transform="translate(63,266.1) scale(1,1.1)" font-size="8" text-anchor="start" font-weight="normal" fill="#111">C3<tspan font-size="4.8" dy="-3.1" style="stroke-width:0.1px">-/-</tspan><tspan dy="3.1"> +PACMA31</tspan></text>
<circle cx="63.5" cy="357" r="2.0" fill="none" stroke="#9e1a3d" stroke-width="1.1"/>
<circle cx="66.5" cy="356" r="2.0" fill="none" stroke="#9e1a3d" stroke-width="1.1"/>
<circle cx="69" cy="357" r="2.0" fill="none" stroke="#9e1a3d" stroke-width="1.1"/>
<circle cx="63" cy="360" r="2.0" fill="none" stroke="#9e1a3d" stroke-width="1.1"/>
<circle cx="66" cy="359.5" r="2.0" fill="none" stroke="#9e1a3d" stroke-width="1.1"/>
<circle cx="69.5" cy="360.5" r="2.0" fill="none" stroke="#9e1a3d" stroke-width="1.1"/>
<circle cx="63.5" cy="363.5" r="2.0" fill="none" stroke="#9e1a3d" stroke-width="1.1"/>
<circle cx="66.5" cy="364" r="2.0" fill="none" stroke="#9e1a3d" stroke-width="1.1"/>
<circle cx="69" cy="363.5" r="2.0" fill="none" stroke="#9e1a3d" stroke-width="1.1"/>
<circle cx="64" cy="366.5" r="2.0" fill="none" stroke="#9e1a3d" stroke-width="1.1"/>
<circle cx="67.5" cy="367" r="2.0" fill="none" stroke="#9e1a3d" stroke-width="1.1"/>
<circle cx="66" cy="361.5" r="2.0" fill="none" stroke="#9e1a3d" stroke-width="1.1"/>
<line x1="59.2" y1="362.3" x2="73.8" y2="362.3" stroke="#000" stroke-width="1.3"/>
<rect x="81.25" y="349.35" width="3.7" height="3.7" fill="none" stroke="#2c416f" stroke-width="1.1"/>
<rect x="85.85" y="349.35" width="3.7" height="3.7" fill="none" stroke="#2c416f" stroke-width="1.1"/>
<rect x="80.65" y="363.15" width="3.7" height="3.7" fill="none" stroke="#2c416f" stroke-width="1.1"/>
<rect x="83.65" y="363.15" width="3.7" height="3.7" fill="none" stroke="#2c416f" stroke-width="1.1"/>
<rect x="86.65" y="363.15" width="3.7" height="3.7" fill="none" stroke="#2c416f" stroke-width="1.1"/>
<rect x="89.65" y="363.15" width="3.7" height="3.7" fill="none" stroke="#2c416f" stroke-width="1.1"/>
<rect x="80.65" y="365.65" width="3.7" height="3.7" fill="none" stroke="#2c416f" stroke-width="1.1"/>
<rect x="83.65" y="365.65" width="3.7" height="3.7" fill="none" stroke="#2c416f" stroke-width="1.1"/>
<rect x="86.65" y="365.65" width="3.7" height="3.7" fill="none" stroke="#2c416f" stroke-width="1.1"/>
<rect x="89.65" y="365.65" width="3.7" height="3.7" fill="none" stroke="#2c416f" stroke-width="1.1"/>
<line x1="80" y1="363.1" x2="93.8" y2="363.1" stroke="#000" stroke-width="1.3"/>
<path d="M107.5 355.9L109.95 360L105.05 360Z" fill="none" stroke="#68a640" stroke-width="1.0" stroke-linejoin="round"/>
<path d="M105 358.7L107.45 362.8L102.55 362.8Z" fill="none" stroke="#68a640" stroke-width="1.0" stroke-linejoin="round"/>
<path d="M110 358.7L112.45 362.8L107.55 362.8Z" fill="none" stroke="#68a640" stroke-width="1.0" stroke-linejoin="round"/>
<path d="M104.3 361.7L106.75 365.8L101.85 365.8Z" fill="none" stroke="#68a640" stroke-width="1.0" stroke-linejoin="round"/>
<path d="M107.5 361.2L109.95 365.3L105.05 365.3Z" fill="none" stroke="#68a640" stroke-width="1.0" stroke-linejoin="round"/>
<path d="M110.7 361.7L113.15 365.8L108.25 365.8Z" fill="none" stroke="#68a640" stroke-width="1.0" stroke-linejoin="round"/>
<path d="M106 363.9L108.45 368L103.55 368Z" fill="none" stroke="#68a640" stroke-width="1.0" stroke-linejoin="round"/>
<path d="M109 363.9L111.45 368L106.55 368Z" fill="none" stroke="#68a640" stroke-width="1.0" stroke-linejoin="round"/>
<line x1="100" y1="362.8" x2="115" y2="362.8" stroke="#000" stroke-width="1.3"/>
<path d="M125.8 352.75L130.6 352.75L128.2 356.7Z" fill="none" stroke="#431d52" stroke-width="1.05" stroke-linejoin="round"/>
<path d="M122.1 357.75L126.9 357.75L124.5 361.7Z" fill="none" stroke="#431d52" stroke-width="1.05" stroke-linejoin="round"/>
<path d="M125.6 357.25L130.4 357.25L128 361.2Z" fill="none" stroke="#431d52" stroke-width="1.05" stroke-linejoin="round"/>
<path d="M129.1 357.75L133.9 357.75L131.5 361.7Z" fill="none" stroke="#431d52" stroke-width="1.05" stroke-linejoin="round"/>
<path d="M123.6 360.75L128.4 360.75L126 364.7Z" fill="none" stroke="#431d52" stroke-width="1.05" stroke-linejoin="round"/>
<path d="M127.6 360.75L132.4 360.75L130 364.7Z" fill="none" stroke="#431d52" stroke-width="1.05" stroke-linejoin="round"/>
<path d="M121.6 363.75L126.4 363.75L124 367.7Z" fill="none" stroke="#431d52" stroke-width="1.05" stroke-linejoin="round"/>
<path d="M125.6 364.45L130.4 364.45L128 368.4Z" fill="none" stroke="#431d52" stroke-width="1.05" stroke-linejoin="round"/>
<path d="M129.6 363.75L134.4 363.75L132 367.7Z" fill="none" stroke="#431d52" stroke-width="1.05" stroke-linejoin="round"/>
<line x1="121.2" y1="363.1" x2="135" y2="363.1" stroke="#000" stroke-width="1.3"/>
<circle cx="158.7" cy="261.5" r="2.0" fill="none" stroke="#9e1a3d" stroke-width="1.1"/>
<circle cx="162.5" cy="262.8" r="2.0" fill="none" stroke="#9e1a3d" stroke-width="1.1"/>
<circle cx="162.1" cy="280.5" r="2.0" fill="none" stroke="#9e1a3d" stroke-width="1.1"/>
<circle cx="160.4" cy="282.7" r="2.0" fill="none" stroke="#9e1a3d" stroke-width="1.1"/>
<circle cx="158.7" cy="287.4" r="2.0" fill="none" stroke="#9e1a3d" stroke-width="1.1"/>
<circle cx="162.1" cy="285.7" r="2.0" fill="none" stroke="#9e1a3d" stroke-width="1.1"/>
<circle cx="165.6" cy="286.1" r="2.0" fill="none" stroke="#9e1a3d" stroke-width="1.1"/>
<circle cx="162.1" cy="289.2" r="2.0" fill="none" stroke="#9e1a3d" stroke-width="1.1"/>
<circle cx="159.1" cy="292.2" r="2.0" fill="none" stroke="#9e1a3d" stroke-width="1.1"/>
<circle cx="163" cy="291.8" r="2.0" fill="none" stroke="#9e1a3d" stroke-width="1.1"/>
<circle cx="166" cy="293.9" r="2.0" fill="none" stroke="#9e1a3d" stroke-width="1.1"/>
<circle cx="162.1" cy="296.1" r="2.0" fill="none" stroke="#9e1a3d" stroke-width="1.1"/>
<line x1="155.2" y1="283.8" x2="169" y2="283.8" stroke="#000" stroke-width="1.3"/>
<rect x="180.55" y="274.35" width="3.7" height="3.7" fill="none" stroke="#2c416f" stroke-width="1.1"/>
<rect x="180.65" y="286.25" width="3.7" height="3.7" fill="none" stroke="#2c416f" stroke-width="1.1"/>
<rect x="177.55" y="290.05" width="3.7" height="3.7" fill="none" stroke="#2c416f" stroke-width="1.1"/>
<rect x="183.75" y="290.05" width="3.7" height="3.7" fill="none" stroke="#2c416f" stroke-width="1.1"/>
<rect x="180.65" y="292.55" width="3.7" height="3.7" fill="none" stroke="#2c416f" stroke-width="1.1"/>
<rect x="184.45" y="296.95" width="3.7" height="3.7" fill="none" stroke="#2c416f" stroke-width="1.1"/>
<rect x="180.65" y="301.25" width="3.7" height="3.7" fill="none" stroke="#2c416f" stroke-width="1.1"/>
<rect x="177.55" y="313.75" width="3.7" height="3.7" fill="none" stroke="#2c416f" stroke-width="1.1"/>
<rect x="180.65" y="316.65" width="3.7" height="3.7" fill="none" stroke="#2c416f" stroke-width="1.1"/>
<rect x="180.65" y="335.65" width="3.7" height="3.7" fill="none" stroke="#2c416f" stroke-width="1.1"/>
<rect x="183.75" y="335.05" width="3.7" height="3.7" fill="none" stroke="#2c416f" stroke-width="1.1"/>
<line x1="176.3" y1="305" x2="189.4" y2="305" stroke="#000" stroke-width="1.3"/>
<path d="M202.5 269L204.95 273.1L200.05 273.1Z" fill="none" stroke="#68a640" stroke-width="1.0" stroke-linejoin="round"/>
<path d="M203.1 278.7L205.55 282.8L200.65 282.8Z" fill="none" stroke="#68a640" stroke-width="1.0" stroke-linejoin="round"/>
<path d="M206.3 289.6L208.75 293.7L203.85 293.7Z" fill="none" stroke="#68a640" stroke-width="1.0" stroke-linejoin="round"/>
<path d="M200 294L202.45 298.1L197.55 298.1Z" fill="none" stroke="#68a640" stroke-width="1.0" stroke-linejoin="round"/>
<path d="M203.1 294.6L205.55 298.7L200.65 298.7Z" fill="none" stroke="#68a640" stroke-width="1.0" stroke-linejoin="round"/>
<path d="M206.3 299L208.75 303.1L203.85 303.1Z" fill="none" stroke="#68a640" stroke-width="1.0" stroke-linejoin="round"/>
<path d="M200 304.6L202.45 308.7L197.55 308.7Z" fill="none" stroke="#68a640" stroke-width="1.0" stroke-linejoin="round"/>
<path d="M203.1 303.3L205.55 307.4L200.65 307.4Z" fill="none" stroke="#68a640" stroke-width="1.0" stroke-linejoin="round"/>
<path d="M203.1 310.2L205.55 314.3L200.65 314.3Z" fill="none" stroke="#68a640" stroke-width="1.0" stroke-linejoin="round"/>
<path d="M203.1 322.1L205.55 326.2L200.65 326.2Z" fill="none" stroke="#68a640" stroke-width="1.0" stroke-linejoin="round"/>
<line x1="196.3" y1="298.8" x2="210" y2="298.8" stroke="#000" stroke-width="1.3"/>
<path d="M221.1 285.15L225.9 285.15L223.5 289.1Z" fill="none" stroke="#431d52" stroke-width="1.05" stroke-linejoin="round"/>
<path d="M218.2 290.75L223 290.75L220.6 294.7Z" fill="none" stroke="#431d52" stroke-width="1.05" stroke-linejoin="round"/>
<path d="M221.1 292.65L225.9 292.65L223.5 296.6Z" fill="none" stroke="#431d52" stroke-width="1.05" stroke-linejoin="round"/>
<path d="M217.6 297.65L222.4 297.65L220 301.6Z" fill="none" stroke="#431d52" stroke-width="1.05" stroke-linejoin="round"/>
<path d="M224.5 300.55L229.3 300.55L226.9 304.5Z" fill="none" stroke="#431d52" stroke-width="1.05" stroke-linejoin="round"/>
<path d="M221.4 303.85L226.2 303.85L223.8 307.8Z" fill="none" stroke="#431d52" stroke-width="1.05" stroke-linejoin="round"/>
<path d="M221.4 311.35L226.2 311.35L223.8 315.3Z" fill="none" stroke="#431d52" stroke-width="1.05" stroke-linejoin="round"/>
<path d="M221.4 318.85L226.2 318.85L223.8 322.8Z" fill="none" stroke="#431d52" stroke-width="1.05" stroke-linejoin="round"/>
<path d="M221.4 328.85L226.2 328.85L223.8 332.8Z" fill="none" stroke="#431d52" stroke-width="1.05" stroke-linejoin="round"/>
<path d="M223.9 331.35L228.7 331.35L226.3 335.3Z" fill="none" stroke="#431d52" stroke-width="1.05" stroke-linejoin="round"/>
<path d="M221.4 335.75L226.2 335.75L223.8 339.7Z" fill="none" stroke="#431d52" stroke-width="1.05" stroke-linejoin="round"/>
<line x1="216.5" y1="311.3" x2="230.6" y2="311.3" stroke="#000" stroke-width="1.3"/>
<line x1="159.5" y1="233.75" x2="195.5" y2="233.75" stroke="#000" stroke-width="1.3"/>
<line x1="159.5" y1="232.05" x2="159.5" y2="235.45" stroke="#000" stroke-width="1.4"/>
<line x1="195.5" y1="232.05" x2="195.5" y2="235.45" stroke="#000" stroke-width="1.4"/>
<circle cx="177" cy="228.35" r="1.2" fill="#000"/>
<line x1="160" y1="248.75" x2="180.5" y2="248.75" stroke="#000" stroke-width="1.3"/>
<line x1="160" y1="247.05" x2="160" y2="250.45" stroke="#000" stroke-width="1.4"/>
<line x1="180.5" y1="247.05" x2="180.5" y2="250.45" stroke="#000" stroke-width="1.4"/>
<circle cx="166.05" cy="243.35" r="1.2" fill="#000"/>
<circle cx="170" cy="243.35" r="1.2" fill="#000"/>
<circle cx="173.95" cy="243.35" r="1.2" fill="#000"/>
<line x1="180.3" y1="265.7" x2="223.1" y2="265.7" stroke="#000" stroke-width="1.3"/>
<line x1="180.3" y1="264" x2="180.3" y2="267.4" stroke="#000" stroke-width="1.4"/>
<line x1="223.1" y1="264" x2="223.1" y2="267.4" stroke="#000" stroke-width="1.4"/>
<text x="201.7" y="263.5" font-size="8" text-anchor="middle" font-weight="normal" fill="#111">n.s.</text>
<text x="266.7" y="222.9" font-size="12" text-anchor="start" font-weight="bold" fill="#111" style="stroke-width:0.15px">D</text>
<line x1="308.1" y1="230" x2="308.1" y2="370.65" stroke="#000" stroke-width="1.3"/>
<line x1="304.9" y1="232.8" x2="308.1" y2="232.8" stroke="#000" stroke-width="1.25"/>
<text transform="translate(301.8,235.8) scale(1,1.09)" font-size="8" text-anchor="end" font-weight="normal" fill="#111">80</text>
<line x1="304.9" y1="267.2" x2="308.1" y2="267.2" stroke="#000" stroke-width="1.25"/>
<text transform="translate(301.8,270.2) scale(1,1.09)" font-size="8" text-anchor="end" font-weight="normal" fill="#111">60</text>
<line x1="304.9" y1="301.4" x2="308.1" y2="301.4" stroke="#000" stroke-width="1.25"/>
<text transform="translate(301.8,304.4) scale(1,1.09)" font-size="8" text-anchor="end" font-weight="normal" fill="#111">40</text>
<line x1="304.9" y1="335.6" x2="308.1" y2="335.6" stroke="#000" stroke-width="1.25"/>
<text transform="translate(301.8,338.6) scale(1,1.09)" font-size="8" text-anchor="end" font-weight="normal" fill="#111">20</text>
<line x1="304.9" y1="370" x2="308.1" y2="370" stroke="#000" stroke-width="1.25"/>
<text transform="translate(301.8,373) scale(1,1.09)" font-size="8" text-anchor="end" font-weight="normal" fill="#111">0</text>
<line x1="307.45" y1="370" x2="505.5" y2="370" stroke="#000" stroke-width="1.3"/>
<line x1="342" y1="370" x2="342" y2="373" stroke="#000" stroke-width="1.25"/>
<line x1="407" y1="370" x2="407" y2="373" stroke="#000" stroke-width="1.25"/>
<line x1="471.75" y1="370" x2="471.75" y2="373" stroke="#000" stroke-width="1.25"/>
<text x="341.3" y="383.4" font-size="8.3" text-anchor="middle" font-weight="normal" fill="#111">Basal</text>
<text x="406.9" y="383.4" font-size="8.3" text-anchor="middle" font-weight="normal" fill="#111">20 ng/ml</text>
<text x="471.9" y="383.4" font-size="8.3" text-anchor="middle" font-weight="normal" fill="#111">50 ng/ml</text>
<line x1="393.2" y1="388.4" x2="484.6" y2="388.4" stroke="#000" stroke-width="1.3"/>
<text x="438.9" y="398.2" font-size="8.3" text-anchor="middle" font-weight="normal" fill="#111" textLength="36.5" lengthAdjust="spacingAndGlyphs">Convulxin</text>
<text transform="translate(282,300) rotate(-90)" font-size="9.5" text-anchor="middle" fill="#111" textLength="79" lengthAdjust="spacingAndGlyphs" style="stroke-width:0.42px">Anti-VWF-FITC (AU)</text>
<circle cx="316.3" cy="234.4" r="2.0" fill="none" stroke="#9e1a3d" stroke-width="1.1"/>
<text transform="translate(321.7,237.1) scale(1,1.1)" font-size="8" text-anchor="start" font-weight="normal" fill="#111">WT</text>
<rect x="314.45" y="243.95" width="3.7" height="3.7" fill="none" stroke="#2c416f" stroke-width="1.1"/>
<text transform="translate(321.7,248.5) scale(1,1.1)" font-size="8" text-anchor="start" font-weight="normal" fill="#111">C5<tspan font-size="4.8" dy="-3.1" style="stroke-width:0.1px">-/-</tspan></text>
<path d="M316.3 255.9L318.75 260L313.85 260Z" fill="none" stroke="#68a640" stroke-width="1.0" stroke-linejoin="round"/>
<text transform="translate(321.7,260.9) scale(1,1.1)" font-size="8" text-anchor="start" font-weight="normal" fill="#111">WT+PACMA31</text>
<path d="M313.9 268.45L318.7 268.45L316.3 272.4Z" fill="none" stroke="#431d52" stroke-width="1.05" stroke-linejoin="round"/>
<text transform="translate(321.7,272.9) scale(1,1.1)" font-size="8" text-anchor="start" font-weight="normal" fill="#111">C5<tspan font-size="4.8" dy="-3.1" style="stroke-width:0.1px">-/-</tspan><tspan dy="3.1">+PACMA31</tspan></text>
<circle cx="319.4" cy="335.6" r="2.0" fill="none" stroke="#9e1a3d" stroke-width="1.1"/>
<circle cx="317.5" cy="348.8" r="2.0" fill="none" stroke="#9e1a3d" stroke-width="1.1"/>
<circle cx="320.6" cy="348.8" r="2.0" fill="none" stroke="#9e1a3d" stroke-width="1.1"/>
<circle cx="316.9" cy="352.5" r="2.0" fill="none" stroke="#9e1a3d" stroke-width="1.1"/>
<circle cx="319.4" cy="354.4" r="2.0" fill="none" stroke="#9e1a3d" stroke-width="1.1"/>
<circle cx="323.1" cy="356.3" r="2.0" fill="none" stroke="#9e1a3d" stroke-width="1.1"/>
<circle cx="320" cy="357.3" r="2.0" fill="none" stroke="#9e1a3d" stroke-width="1.1"/>
<line x1="315.6" y1="350" x2="325" y2="350" stroke="#000" stroke-width="1.3"/>
<rect x="328.75" y="342.55" width="3.7" height="3.7" fill="none" stroke="#2c416f" stroke-width="1.1"/>
<rect x="332.55" y="342.55" width="3.7" height="3.7" fill="none" stroke="#2c416f" stroke-width="1.1"/>
<rect x="336.25" y="342.55" width="3.7" height="3.7" fill="none" stroke="#2c416f" stroke-width="1.1"/>
<rect x="329.45" y="351.25" width="3.7" height="3.7" fill="none" stroke="#2c416f" stroke-width="1.1"/>
<rect x="333.15" y="351.95" width="3.7" height="3.7" fill="none" stroke="#2c416f" stroke-width="1.1"/>
<rect x="336.25" y="351.25" width="3.7" height="3.7" fill="none" stroke="#2c416f" stroke-width="1.1"/>
<rect x="331.95" y="355.05" width="3.7" height="3.7" fill="none" stroke="#2c416f" stroke-width="1.1"/>
<line x1="328.8" y1="349.4" x2="340" y2="349.4" stroke="#000" stroke-width="1.3"/>
<path d="M348.1 335.2L350.55 339.3L345.65 339.3Z" fill="none" stroke="#68a640" stroke-width="1.0" stroke-linejoin="round"/>
<path d="M345.6 350.8L348.05 354.9L343.15 354.9Z" fill="none" stroke="#68a640" stroke-width="1.0" stroke-linejoin="round"/>
<path d="M348.8 352.1L351.25 356.2L346.35 356.2Z" fill="none" stroke="#68a640" stroke-width="1.0" stroke-linejoin="round"/>
<path d="M350 354L352.45 358.1L347.55 358.1Z" fill="none" stroke="#68a640" stroke-width="1.0" stroke-linejoin="round"/>
<path d="M347.5 355.8L349.95 359.9L345.05 359.9Z" fill="none" stroke="#68a640" stroke-width="1.0" stroke-linejoin="round"/>
<line x1="343.1" y1="351.3" x2="352.5" y2="351.3" stroke="#000" stroke-width="1.3"/>
<path d="M356.4 344.25L361.2 344.25L358.8 348.2Z" fill="none" stroke="#431d52" stroke-width="1.05" stroke-linejoin="round"/>
<path d="M360.1 343.85L364.9 343.85L362.5 347.8Z" fill="none" stroke="#431d52" stroke-width="1.05" stroke-linejoin="round"/>
<path d="M362.6 343.25L367.4 343.25L365 347.2Z" fill="none" stroke="#431d52" stroke-width="1.05" stroke-linejoin="round"/>
<path d="M357.6 346.35L362.4 346.35L360 350.3Z" fill="none" stroke="#431d52" stroke-width="1.05" stroke-linejoin="round"/>
<path d="M356.4 352.65L361.2 352.65L358.8 356.6Z" fill="none" stroke="#431d52" stroke-width="1.05" stroke-linejoin="round"/>
<path d="M361.4 353.25L366.2 353.25L363.8 357.2Z" fill="none" stroke="#431d52" stroke-width="1.05" stroke-linejoin="round"/>
<path d="M360.1 357.65L364.9 357.65L362.5 361.6Z" fill="none" stroke="#431d52" stroke-width="1.05" stroke-linejoin="round"/>
<line x1="356.9" y1="351.9" x2="367.5" y2="351.9" stroke="#000" stroke-width="1.3"/>
<circle cx="385.5" cy="321.7" r="2.0" fill="none" stroke="#9e1a3d" stroke-width="1.1"/>
<circle cx="385.5" cy="338.6" r="2.0" fill="none" stroke="#9e1a3d" stroke-width="1.1"/>
<circle cx="382.6" cy="345.6" r="2.0" fill="none" stroke="#9e1a3d" stroke-width="1.1"/>
<circle cx="386.1" cy="345" r="2.0" fill="none" stroke="#9e1a3d" stroke-width="1.1"/>
<circle cx="389" cy="347.9" r="2.0" fill="none" stroke="#9e1a3d" stroke-width="1.1"/>
<circle cx="385.2" cy="349.4" r="2.0" fill="none" stroke="#9e1a3d" stroke-width="1.1"/>
<line x1="380.3" y1="341.3" x2="390.7" y2="341.3" stroke="#000" stroke-width="1.3"/>
<rect x="394.65" y="333.95" width="3.7" height="3.7" fill="none" stroke="#2c416f" stroke-width="1.1"/>
<rect x="398.65" y="333.95" width="3.7" height="3.7" fill="none" stroke="#2c416f" stroke-width="1.1"/>
<rect x="401.75" y="333.95" width="3.7" height="3.7" fill="none" stroke="#2c416f" stroke-width="1.1"/>
<rect x="397.45" y="342.55" width="3.7" height="3.7" fill="none" stroke="#2c416f" stroke-width="1.1"/>
<rect x="397.45" y="352.95" width="3.7" height="3.7" fill="none" stroke="#2c416f" stroke-width="1.1"/>
<line x1="394.1" y1="340.1" x2="405.1" y2="340.1" stroke="#000" stroke-width="1.3"/>
<path d="M413.2 326.8L415.65 330.9L410.75 330.9Z" fill="none" stroke="#68a640" stroke-width="1.0" stroke-linejoin="round"/>
<path d="M411.4 346.7L413.85 350.8L408.95 350.8Z" fill="none" stroke="#68a640" stroke-width="1.0" stroke-linejoin="round"/>
<path d="M414.9 346.9L417.35 351L412.45 351Z" fill="none" stroke="#68a640" stroke-width="1.0" stroke-linejoin="round"/>
<path d="M409.8 349.3L412.25 353.4L407.35 353.4Z" fill="none" stroke="#68a640" stroke-width="1.0" stroke-linejoin="round"/>
<path d="M416.6 349.3L419.05 353.4L414.15 353.4Z" fill="none" stroke="#68a640" stroke-width="1.0" stroke-linejoin="round"/>
<path d="M413.2 349.6L415.65 353.7L410.75 353.7Z" fill="none" stroke="#68a640" stroke-width="1.0" stroke-linejoin="round"/>
<path d="M411.6 351.5L414.05 355.6L409.15 355.6Z" fill="none" stroke="#68a640" stroke-width="1.0" stroke-linejoin="round"/>
<path d="M414.9 351.5L417.35 355.6L412.45 355.6Z" fill="none" stroke="#68a640" stroke-width="1.0" stroke-linejoin="round"/>
<line x1="408.6" y1="346.7" x2="419" y2="346.7" stroke="#000" stroke-width="1.3"/>
<path d="M425.2 336.35L430 336.35L427.6 340.3Z" fill="none" stroke="#431d52" stroke-width="1.05" stroke-linejoin="round"/>
<path d="M428.7 334.55L433.5 334.55L431.1 338.5Z" fill="none" stroke="#431d52" stroke-width="1.05" stroke-linejoin="round"/>
<path d="M421.7 340.95L426.5 340.95L424.1 344.9Z" fill="none" stroke="#431d52" stroke-width="1.05" stroke-linejoin="round"/>
<path d="M425.2 343.05L430 343.05L427.6 347Z" fill="none" stroke="#431d52" stroke-width="1.05" stroke-linejoin="round"/>
<path d="M425.2 351.35L430 351.35L427.6 355.3Z" fill="none" stroke="#431d52" stroke-width="1.05" stroke-linejoin="round"/>
<path d="M428.7 350.35L433.5 350.35L431.1 354.3Z" fill="none" stroke="#431d52" stroke-width="1.05" stroke-linejoin="round"/>
<line x1="425.3" y1="345.6" x2="432.2" y2="345.6" stroke="#000" stroke-width="1.3"/>
<circle cx="451" cy="260.3" r="2.0" fill="none" stroke="#9e1a3d" stroke-width="1.1"/>
<circle cx="447.8" cy="272.3" r="2.0" fill="none" stroke="#9e1a3d" stroke-width="1.1"/>
<circle cx="451.5" cy="273.8" r="2.0" fill="none" stroke="#9e1a3d" stroke-width="1.1"/>
<circle cx="451" cy="294" r="2.0" fill="none" stroke="#9e1a3d" stroke-width="1.1"/>
<circle cx="451" cy="305" r="2.0" fill="none" stroke="#9e1a3d" stroke-width="1.1"/>
<circle cx="451" cy="318.5" r="2.0" fill="none" stroke="#9e1a3d" stroke-width="1.1"/>
<line x1="446.3" y1="287.3" x2="456" y2="287.3" stroke="#000" stroke-width="1.3"/>
<rect x="462.95" y="253.15" width="3.7" height="3.7" fill="none" stroke="#2c416f" stroke-width="1.1"/>
<rect x="466.25" y="285.25" width="3.7" height="3.7" fill="none" stroke="#2c416f" stroke-width="1.1"/>
<rect x="463.15" y="288.15" width="3.7" height="3.7" fill="none" stroke="#2c416f" stroke-width="1.1"/>
<rect x="460.05" y="295.45" width="3.7" height="3.7" fill="none" stroke="#2c416f" stroke-width="1.1"/>
<rect x="463.75" y="295.45" width="3.7" height="3.7" fill="none" stroke="#2c416f" stroke-width="1.1"/>
<rect x="463.15" y="320.45" width="3.7" height="3.7" fill="none" stroke="#2c416f" stroke-width="1.1"/>
<line x1="460.6" y1="291.3" x2="469.4" y2="291.3" stroke="#000" stroke-width="1.3"/>
<path d="M478.8 291.2L481.25 295.3L476.35 295.3Z" fill="none" stroke="#68a640" stroke-width="1.0" stroke-linejoin="round"/>
<path d="M478.8 314.6L481.25 318.7L476.35 318.7Z" fill="none" stroke="#68a640" stroke-width="1.0" stroke-linejoin="round"/>
<path d="M475.6 323.3L478.05 327.4L473.15 327.4Z" fill="none" stroke="#68a640" stroke-width="1.0" stroke-linejoin="round"/>
<path d="M482.5 322.1L484.95 326.2L480.05 326.2Z" fill="none" stroke="#68a640" stroke-width="1.0" stroke-linejoin="round"/>
<path d="M478.8 326.5L481.25 330.6L476.35 330.6Z" fill="none" stroke="#68a640" stroke-width="1.0" stroke-linejoin="round"/>
<path d="M478.8 335.8L481.25 339.9L476.35 339.9Z" fill="none" stroke="#68a640" stroke-width="1.0" stroke-linejoin="round"/>
<line x1="474.4" y1="321" x2="483.8" y2="321" stroke="#000" stroke-width="1.3"/>
<path d="M490.1 295.15L494.9 295.15L492.5 299.1Z" fill="none" stroke="#431d52" stroke-width="1.05" stroke-linejoin="round"/>
<path d="M489.9 311.85L494.7 311.85L492.3 315.8Z" fill="none" stroke="#431d52" stroke-width="1.05" stroke-linejoin="round"/>
<path d="M493 311.85L497.8 311.85L495.4 315.8Z" fill="none" stroke="#431d52" stroke-width="1.05" stroke-linejoin="round"/>
<path d="M495.9 311.85L500.7 311.85L498.3 315.8Z" fill="none" stroke="#431d52" stroke-width="1.05" stroke-linejoin="round"/>
<path d="M487.4 316.35L492.2 316.35L489.8 320.3Z" fill="none" stroke="#431d52" stroke-width="1.05" stroke-linejoin="round"/>
<path d="M490.9 319.05L495.7 319.05L493.3 323Z" fill="none" stroke="#431d52" stroke-width="1.05" stroke-linejoin="round"/>
<path d="M490.1 328.25L494.9 328.25L492.5 332.2Z" fill="none" stroke="#431d52" stroke-width="1.05" stroke-linejoin="round"/>
<line x1="489" y1="317.6" x2="497" y2="317.6" stroke="#000" stroke-width="1.3"/>
<line x1="464.5" y1="233.25" x2="490" y2="233.25" stroke="#000" stroke-width="1.3"/>
<line x1="464.5" y1="231.55" x2="464.5" y2="234.95" stroke="#000" stroke-width="1.4"/>
<line x1="490" y1="231.55" x2="490" y2="234.95" stroke="#000" stroke-width="1.4"/>
<circle cx="477" cy="227.85" r="1.2" fill="#000"/>
<line x1="450.5" y1="243.75" x2="474.5" y2="243.75" stroke="#000" stroke-width="1.3"/>
<line x1="450.5" y1="242.05" x2="450.5" y2="245.45" stroke="#000" stroke-width="1.4"/>
<line x1="474.5" y1="242.05" x2="474.5" y2="245.45" stroke="#000" stroke-width="1.4"/>
<circle cx="462.5" cy="238.35" r="1.2" fill="#000"/>
<text x="7.7" y="427" font-size="12" text-anchor="start" font-weight="bold" fill="#111" style="stroke-width:0.15px">E</text>
<line x1="49.6" y1="445.4" x2="49.6" y2="583.25" stroke="#000" stroke-width="1.3"/>
<line x1="46.4" y1="448.5" x2="49.6" y2="448.5" stroke="#000" stroke-width="1.25"/>
<text transform="translate(43.3,451.5) scale(1,1.09)" font-size="8" text-anchor="end" font-weight="normal" fill="#111">40</text>
<line x1="46.4" y1="481.9" x2="49.6" y2="481.9" stroke="#000" stroke-width="1.25"/>
<text transform="translate(43.3,484.9) scale(1,1.09)" font-size="8" text-anchor="end" font-weight="normal" fill="#111">30</text>
<line x1="46.4" y1="515.4" x2="49.6" y2="515.4" stroke="#000" stroke-width="1.25"/>
<text transform="translate(43.3,518.4) scale(1,1.09)" font-size="8" text-anchor="end" font-weight="normal" fill="#111">20</text>
<line x1="46.4" y1="549" x2="49.6" y2="549" stroke="#000" stroke-width="1.25"/>
<text transform="translate(43.3,552) scale(1,1.09)" font-size="8" text-anchor="end" font-weight="normal" fill="#111">10</text>
<line x1="46.4" y1="582.5" x2="49.6" y2="582.5" stroke="#000" stroke-width="1.25"/>
<text transform="translate(43.3,585.5) scale(1,1.09)" font-size="8" text-anchor="end" font-weight="normal" fill="#111">0</text>
<line x1="48.95" y1="582.6" x2="248" y2="582.6" stroke="#000" stroke-width="1.3"/>
<line x1="82.5" y1="582.6" x2="82.5" y2="585.6" stroke="#000" stroke-width="1.25"/>
<line x1="148" y1="582.6" x2="148" y2="585.6" stroke="#000" stroke-width="1.25"/>
<line x1="215" y1="582.6" x2="215" y2="585.6" stroke="#000" stroke-width="1.25"/>
<text x="82.5" y="596.6" font-size="8.3" text-anchor="middle" font-weight="normal" fill="#111">Basal</text>
<text x="149" y="596.6" font-size="8.3" text-anchor="middle" font-weight="normal" fill="#111">20 ng/ml</text>
<text x="215.4" y="596.6" font-size="8.3" text-anchor="middle" font-weight="normal" fill="#111">50 ng/ml</text>
<line x1="133.75" y1="602" x2="229.5" y2="602" stroke="#000" stroke-width="1.3"/>
<text x="181.6" y="612.2" font-size="8.3" text-anchor="middle" font-weight="normal" fill="#111" textLength="36.5" lengthAdjust="spacingAndGlyphs">Convulxin</text>
<text transform="translate(23.6,514.7) rotate(-90)" font-size="9.5" text-anchor="middle" fill="#111" textLength="98" lengthAdjust="spacingAndGlyphs" style="stroke-width:0.42px">Anti-P-selectin-FITC (AU)</text>
<circle cx="58" cy="449" r="2.0" fill="none" stroke="#9e1a3d" stroke-width="1.1"/>
<text transform="translate(63.4,451.7) scale(1,1.1)" font-size="8" text-anchor="start" font-weight="normal" fill="#111">WT</text>
<rect x="56.15" y="458.85" width="3.7" height="3.7" fill="none" stroke="#2c416f" stroke-width="1.1"/>
<text transform="translate(63.4,463.4) scale(1,1.1)" font-size="8" text-anchor="start" font-weight="normal" fill="#111">C5<tspan font-size="4.8" dy="-3.1" style="stroke-width:0.1px">-/-</tspan></text>
<path d="M58 470.7L60.45 474.8L55.55 474.8Z" fill="none" stroke="#68a640" stroke-width="1.0" stroke-linejoin="round"/>
<text transform="translate(63.4,475.7) scale(1,1.1)" font-size="8" text-anchor="start" font-weight="normal" fill="#111">WT+PACMA31</text>
<path d="M55.6 483.25L60.4 483.25L58 487.2Z" fill="none" stroke="#431d52" stroke-width="1.05" stroke-linejoin="round"/>
<text transform="translate(63.4,487.7) scale(1,1.1)" font-size="8" text-anchor="start" font-weight="normal" fill="#111">C5<tspan font-size="4.8" dy="-3.1" style="stroke-width:0.1px">-/-</tspan><tspan dy="3.1">+PACMA31</tspan></text>
<circle cx="59.5" cy="577" r="2.0" fill="none" stroke="#9e1a3d" stroke-width="1.1"/>
<circle cx="63.5" cy="576.5" r="2.0" fill="none" stroke="#9e1a3d" stroke-width="1.1"/>
<circle cx="58.5" cy="580" r="2.0" fill="none" stroke="#9e1a3d" stroke-width="1.1"/>
<circle cx="61.5" cy="580" r="2.0" fill="none" stroke="#9e1a3d" stroke-width="1.1"/>
<circle cx="64.5" cy="580" r="2.0" fill="none" stroke="#9e1a3d" stroke-width="1.1"/>
<rect x="70.95" y="570.25" width="3.7" height="3.7" fill="none" stroke="#2c416f" stroke-width="1.1"/>
<rect x="74.35" y="570.25" width="3.7" height="3.7" fill="none" stroke="#2c416f" stroke-width="1.1"/>
<rect x="77.25" y="570.25" width="3.7" height="3.7" fill="none" stroke="#2c416f" stroke-width="1.1"/>
<rect x="73.25" y="574.85" width="3.7" height="3.7" fill="none" stroke="#2c416f" stroke-width="1.1"/>
<rect x="77.25" y="574.85" width="3.7" height="3.7" fill="none" stroke="#2c416f" stroke-width="1.1"/>
<line x1="70.5" y1="573.8" x2="80.8" y2="573.8" stroke="#000" stroke-width="1.3"/>
<path d="M88.9 567.5L91.35 571.6L86.45 571.6Z" fill="none" stroke="#68a640" stroke-width="1.0" stroke-linejoin="round"/>
<path d="M88.7 572.1L91.15 576.2L86.25 576.2Z" fill="none" stroke="#68a640" stroke-width="1.0" stroke-linejoin="round"/>
<path d="M86.5 576.2L88.95 580.3L84.05 580.3Z" fill="none" stroke="#68a640" stroke-width="1.0" stroke-linejoin="round"/>
<path d="M89.5 576.2L91.95 580.3L87.05 580.3Z" fill="none" stroke="#68a640" stroke-width="1.0" stroke-linejoin="round"/>
<path d="M92.5 576.2L94.95 580.3L90.05 580.3Z" fill="none" stroke="#68a640" stroke-width="1.0" stroke-linejoin="round"/>
<line x1="84.3" y1="577.3" x2="95.3" y2="577.3" stroke="#000" stroke-width="1.3"/>
<path d="M98 572.65L102.8 572.65L100.4 576.6Z" fill="none" stroke="#431d52" stroke-width="1.05" stroke-linejoin="round"/>
<path d="M100.9 572.65L105.7 572.65L103.3 576.6Z" fill="none" stroke="#431d52" stroke-width="1.05" stroke-linejoin="round"/>
<path d="M103.8 572.65L108.6 572.65L106.2 576.6Z" fill="none" stroke="#431d52" stroke-width="1.05" stroke-linejoin="round"/>
<path d="M99.2 574.95L104 574.95L101.6 578.9Z" fill="none" stroke="#431d52" stroke-width="1.05" stroke-linejoin="round"/>
<path d="M102.7 574.95L107.5 574.95L105.1 578.9Z" fill="none" stroke="#431d52" stroke-width="1.05" stroke-linejoin="round"/>
<line x1="98.7" y1="572.6" x2="108.5" y2="572.6" stroke="#000" stroke-width="1.3"/>
<circle cx="127.5" cy="542.8" r="2.0" fill="none" stroke="#9e1a3d" stroke-width="1.1"/>
<circle cx="127.8" cy="565.6" r="2.0" fill="none" stroke="#9e1a3d" stroke-width="1.1"/>
<circle cx="124.3" cy="570.8" r="2.0" fill="none" stroke="#9e1a3d" stroke-width="1.1"/>
<circle cx="127.8" cy="570.8" r="2.0" fill="none" stroke="#9e1a3d" stroke-width="1.1"/>
<circle cx="131.3" cy="570.8" r="2.0" fill="none" stroke="#9e1a3d" stroke-width="1.1"/>
<circle cx="124.3" cy="573.1" r="2.0" fill="none" stroke="#9e1a3d" stroke-width="1.1"/>
<circle cx="127.8" cy="573.1" r="2.0" fill="none" stroke="#9e1a3d" stroke-width="1.1"/>
<circle cx="131.3" cy="573.1" r="2.0" fill="none" stroke="#9e1a3d" stroke-width="1.1"/>
<line x1="122.6" y1="566.4" x2="133" y2="566.4" stroke="#000" stroke-width="1.3"/>
<rect x="139.75" y="554.25" width="3.7" height="3.7" fill="none" stroke="#2c416f" stroke-width="1.1"/>
<rect x="136.35" y="563.75" width="3.7" height="3.7" fill="none" stroke="#2c416f" stroke-width="1.1"/>
<rect x="139.75" y="563.75" width="3.7" height="3.7" fill="none" stroke="#2c416f" stroke-width="1.1"/>
<rect x="139.75" y="570.65" width="3.7" height="3.7" fill="none" stroke="#2c416f" stroke-width="1.1"/>
<rect x="143.25" y="570.65" width="3.7" height="3.7" fill="none" stroke="#2c416f" stroke-width="1.1"/>
<line x1="136.5" y1="566.7" x2="146.8" y2="566.7" stroke="#000" stroke-width="1.3"/>
<path d="M153.2 563.3L155.65 567.4L150.75 567.4Z" fill="none" stroke="#68a640" stroke-width="1.0" stroke-linejoin="round"/>
<path d="M156.1 563.3L158.55 567.4L153.65 567.4Z" fill="none" stroke="#68a640" stroke-width="1.0" stroke-linejoin="round"/>
<path d="M152.6 570.8L155.05 574.9L150.15 574.9Z" fill="none" stroke="#68a640" stroke-width="1.0" stroke-linejoin="round"/>
<path d="M156.1 570.8L158.55 574.9L153.65 574.9Z" fill="none" stroke="#68a640" stroke-width="1.0" stroke-linejoin="round"/>
<path d="M159.5 570.8L161.95 574.9L157.05 574.9Z" fill="none" stroke="#68a640" stroke-width="1.0" stroke-linejoin="round"/>
<line x1="150.9" y1="569.6" x2="161.3" y2="569.6" stroke="#000" stroke-width="1.3"/>
<path d="M164 563.85L168.8 563.85L166.4 567.8Z" fill="none" stroke="#431d52" stroke-width="1.05" stroke-linejoin="round"/>
<path d="M167.5 563.85L172.3 563.85L169.9 567.8Z" fill="none" stroke="#431d52" stroke-width="1.05" stroke-linejoin="round"/>
<path d="M170.4 566.65L175.2 566.65L172.8 570.6Z" fill="none" stroke="#431d52" stroke-width="1.05" stroke-linejoin="round"/>
<path d="M168.1 570.15L172.9 570.15L170.5 574.1Z" fill="none" stroke="#431d52" stroke-width="1.05" stroke-linejoin="round"/>
<path d="M171.5 570.15L176.3 570.15L173.9 574.1Z" fill="none" stroke="#431d52" stroke-width="1.05" stroke-linejoin="round"/>
<line x1="166" y1="566.6" x2="177" y2="566.6" stroke="#000" stroke-width="1.3"/>
<circle cx="193.25" cy="475" r="2.0" fill="none" stroke="#9e1a3d" stroke-width="1.1"/>
<circle cx="192.5" cy="495.5" r="2.0" fill="none" stroke="#9e1a3d" stroke-width="1.1"/>
<circle cx="196.25" cy="495.5" r="2.0" fill="none" stroke="#9e1a3d" stroke-width="1.1"/>
<circle cx="193.3" cy="522.5" r="2.0" fill="none" stroke="#9e1a3d" stroke-width="1.1"/>
<circle cx="190.2" cy="532.3" r="2.0" fill="none" stroke="#9e1a3d" stroke-width="1.1"/>
<circle cx="193.7" cy="535.2" r="2.0" fill="none" stroke="#9e1a3d" stroke-width="1.1"/>
<circle cx="197.1" cy="535.5" r="2.0" fill="none" stroke="#9e1a3d" stroke-width="1.1"/>
<line x1="189.25" y1="513" x2="198.75" y2="513" stroke="#000" stroke-width="1.3"/>
<rect x="206.15" y="463.15" width="3.7" height="3.7" fill="none" stroke="#2c416f" stroke-width="1.1"/>
<rect x="206.15" y="486.4" width="3.7" height="3.7" fill="none" stroke="#2c416f" stroke-width="1.1"/>
<rect x="206.15" y="499.9" width="3.7" height="3.7" fill="none" stroke="#2c416f" stroke-width="1.1"/>
<rect x="205.95" y="523.75" width="3.7" height="3.7" fill="none" stroke="#2c416f" stroke-width="1.1"/>
<rect x="205.95" y="540.65" width="3.7" height="3.7" fill="none" stroke="#2c416f" stroke-width="1.1"/>
<line x1="203" y1="504.5" x2="213" y2="504.5" stroke="#000" stroke-width="1.3"/>
<path d="M218.4 523.7L220.85 527.8L215.95 527.8Z" fill="none" stroke="#68a640" stroke-width="1.0" stroke-linejoin="round"/>
<path d="M222.5 523.7L224.95 527.8L220.05 527.8Z" fill="none" stroke="#68a640" stroke-width="1.0" stroke-linejoin="round"/>
<path d="M221.9 539.2L224.35 543.3L219.45 543.3Z" fill="none" stroke="#68a640" stroke-width="1.0" stroke-linejoin="round"/>
<path d="M218.4 547.3L220.85 551.4L215.95 551.4Z" fill="none" stroke="#68a640" stroke-width="1.0" stroke-linejoin="round"/>
<path d="M222.5 547.3L224.95 551.4L220.05 551.4Z" fill="none" stroke="#68a640" stroke-width="1.0" stroke-linejoin="round"/>
<path d="M225.4 554L227.85 558.1L222.95 558.1Z" fill="none" stroke="#68a640" stroke-width="1.0" stroke-linejoin="round"/>
<path d="M222.5 557.9L224.95 562L220.05 562Z" fill="none" stroke="#68a640" stroke-width="1.0" stroke-linejoin="round"/>
<line x1="217.3" y1="543.8" x2="227.7" y2="543.8" stroke="#000" stroke-width="1.3"/>
<path d="M233.9 523.65L238.7 523.65L236.3 527.6Z" fill="none" stroke="#431d52" stroke-width="1.05" stroke-linejoin="round"/>
<path d="M232.2 537.45L237 537.45L234.6 541.4Z" fill="none" stroke="#431d52" stroke-width="1.05" stroke-linejoin="round"/>
<path d="M229.9 540.35L234.7 540.35L232.3 544.3Z" fill="none" stroke="#431d52" stroke-width="1.05" stroke-linejoin="round"/>
<path d="M233.3 540.35L238.1 540.35L235.7 544.3Z" fill="none" stroke="#431d52" stroke-width="1.05" stroke-linejoin="round"/>
<path d="M236.8 540.35L241.6 540.35L239.2 544.3Z" fill="none" stroke="#431d52" stroke-width="1.05" stroke-linejoin="round"/>
<path d="M233.9 553.65L238.7 553.65L236.3 557.6Z" fill="none" stroke="#431d52" stroke-width="1.05" stroke-linejoin="round"/>
<line x1="231.7" y1="541" x2="240.5" y2="541" stroke="#000" stroke-width="1.3"/>
<line x1="208.25" y1="449.25" x2="232.5" y2="449.25" stroke="#000" stroke-width="1.3"/>
<line x1="208.25" y1="447.55" x2="208.25" y2="450.95" stroke="#000" stroke-width="1.4"/>
<line x1="232.5" y1="447.55" x2="232.5" y2="450.95" stroke="#000" stroke-width="1.4"/>
<circle cx="220.5" cy="443.85" r="1.2" fill="#000"/>
<line x1="192.5" y1="460" x2="219.5" y2="460" stroke="#000" stroke-width="1.3"/>
<line x1="192.5" y1="458.3" x2="192.5" y2="461.7" stroke="#000" stroke-width="1.4"/>
<line x1="219.5" y1="458.3" x2="219.5" y2="461.7" stroke="#000" stroke-width="1.4"/>
<circle cx="205.5" cy="454.6" r="1.2" fill="#000"/>
<text x="266.4" y="426.9" font-size="12" text-anchor="start" font-weight="bold" fill="#111" style="stroke-width:0.15px">F</text>
<line x1="308.1" y1="426.8" x2="308.1" y2="583.45" stroke="#000" stroke-width="1.3"/>
<line x1="304.9" y1="429.6" x2="308.1" y2="429.6" stroke="#000" stroke-width="1.25"/>
<text transform="translate(301.8,432.6) scale(1,1.09)" font-size="8" text-anchor="end" font-weight="normal" fill="#111">100</text>
<line x1="304.9" y1="468" x2="308.1" y2="468" stroke="#000" stroke-width="1.25"/>
<text transform="translate(301.8,471) scale(1,1.09)" font-size="8" text-anchor="end" font-weight="normal" fill="#111">75</text>
<line x1="304.9" y1="506.3" x2="308.1" y2="506.3" stroke="#000" stroke-width="1.25"/>
<text transform="translate(301.8,509.3) scale(1,1.09)" font-size="8" text-anchor="end" font-weight="normal" fill="#111">50</text>
<line x1="304.9" y1="544.6" x2="308.1" y2="544.6" stroke="#000" stroke-width="1.25"/>
<text transform="translate(301.8,547.6) scale(1,1.09)" font-size="8" text-anchor="end" font-weight="normal" fill="#111">25</text>
<line x1="304.9" y1="582.8" x2="308.1" y2="582.8" stroke="#000" stroke-width="1.25"/>
<text transform="translate(301.8,585.8) scale(1,1.09)" font-size="8" text-anchor="end" font-weight="normal" fill="#111">0</text>
<line x1="307.45" y1="582.8" x2="498" y2="582.8" stroke="#000" stroke-width="1.3"/>
<line x1="355" y1="582.8" x2="355" y2="585.8" stroke="#000" stroke-width="1.25"/>
<line x1="449.5" y1="582.8" x2="449.5" y2="585.8" stroke="#000" stroke-width="1.25"/>
<text x="355.2" y="596.4" font-size="8.3" text-anchor="middle" font-weight="normal" fill="#111">Basal</text>
<text x="449.6" y="596.4" font-size="8.3" text-anchor="middle" font-weight="normal" fill="#111">Cvx 50 ng/ml</text>
<text transform="translate(283.4,505.5) rotate(-90)" font-size="9.5" text-anchor="middle" fill="#111" textLength="98" lengthAdjust="spacingAndGlyphs" style="stroke-width:0.42px">Annexin-V+ platelets (%)</text>
<circle cx="316.3" cy="431.4" r="2.0" fill="none" stroke="#9e1a3d" stroke-width="1.1"/>
<text transform="translate(321.7,434.1) scale(1,1.1)" font-size="8" text-anchor="start" font-weight="normal" fill="#111">WT</text>
<rect x="314.45" y="441.15" width="3.7" height="3.7" fill="none" stroke="#2c416f" stroke-width="1.1"/>
<text transform="translate(321.7,445.7) scale(1,1.1)" font-size="8" text-anchor="start" font-weight="normal" fill="#111">C5<tspan font-size="4.8" dy="-3.1" style="stroke-width:0.1px">-/-</tspan></text>
<path d="M316.3 453.2L318.75 457.3L313.85 457.3Z" fill="none" stroke="#68a640" stroke-width="1.0" stroke-linejoin="round"/>
<text transform="translate(321.7,458.2) scale(1,1.1)" font-size="8" text-anchor="start" font-weight="normal" fill="#111">WT+PACMA31</text>
<path d="M313.9 465.85L318.7 465.85L316.3 469.8Z" fill="none" stroke="#431d52" stroke-width="1.05" stroke-linejoin="round"/>
<text transform="translate(321.7,470.3) scale(1,1.1)" font-size="8" text-anchor="start" font-weight="normal" fill="#111">C5<tspan font-size="4.8" dy="-3.1" style="stroke-width:0.1px">-/-</tspan><tspan dy="3.1">+PACMA31</tspan></text>
<circle cx="322.5" cy="566.75" r="2.0" fill="none" stroke="#9e1a3d" stroke-width="1.1"/>
<circle cx="326.25" cy="565" r="2.0" fill="none" stroke="#9e1a3d" stroke-width="1.1"/>
<circle cx="324.5" cy="572" r="2.0" fill="none" stroke="#9e1a3d" stroke-width="1.1"/>
<circle cx="325" cy="580.5" r="2.0" fill="none" stroke="#9e1a3d" stroke-width="1.1"/>
<line x1="318" y1="571.3" x2="332.5" y2="571.3" stroke="#000" stroke-width="1.3"/>
<rect x="340.15" y="557.65" width="3.7" height="3.7" fill="none" stroke="#2c416f" stroke-width="1.1"/>
<rect x="343.9" y="559.4" width="3.7" height="3.7" fill="none" stroke="#2c416f" stroke-width="1.1"/>
<rect x="339.4" y="565.65" width="3.7" height="3.7" fill="none" stroke="#2c416f" stroke-width="1.1"/>
<rect x="343.9" y="567.65" width="3.7" height="3.7" fill="none" stroke="#2c416f" stroke-width="1.1"/>
<rect x="343.15" y="571.15" width="3.7" height="3.7" fill="none" stroke="#2c416f" stroke-width="1.1"/>
<line x1="338.75" y1="566.3" x2="352" y2="566.3" stroke="#000" stroke-width="1.3"/>
<path d="M363.7 563.3L366.15 567.4L361.25 567.4Z" fill="none" stroke="#68a640" stroke-width="1.0" stroke-linejoin="round"/>
<path d="M368 563.7L370.45 567.8L365.55 567.8Z" fill="none" stroke="#68a640" stroke-width="1.0" stroke-linejoin="round"/>
<path d="M365.2 574.9L367.65 579L362.75 579Z" fill="none" stroke="#68a640" stroke-width="1.0" stroke-linejoin="round"/>
<line x1="358.5" y1="568.2" x2="372.3" y2="568.2" stroke="#000" stroke-width="1.3"/>
<path d="M383.3 560.75L388.1 560.75L385.7 564.7Z" fill="none" stroke="#431d52" stroke-width="1.05" stroke-linejoin="round"/>
<path d="M379 565.15L383.8 565.15L381.4 569.1Z" fill="none" stroke="#431d52" stroke-width="1.05" stroke-linejoin="round"/>
<path d="M383.3 566.45L388.1 566.45L385.7 570.4Z" fill="none" stroke="#431d52" stroke-width="1.05" stroke-linejoin="round"/>
<path d="M387.2 566.45L392 566.45L389.6 570.4Z" fill="none" stroke="#431d52" stroke-width="1.05" stroke-linejoin="round"/>
<path d="M383.3 569.05L388.1 569.05L385.7 573Z" fill="none" stroke="#431d52" stroke-width="1.05" stroke-linejoin="round"/>
<line x1="379.2" y1="567.3" x2="392.6" y2="567.3" stroke="#000" stroke-width="1.3"/>
<circle cx="416.25" cy="478" r="2.0" fill="none" stroke="#9e1a3d" stroke-width="1.1"/>
<circle cx="422.5" cy="480" r="2.0" fill="none" stroke="#9e1a3d" stroke-width="1.1"/>
<circle cx="419.5" cy="483" r="2.0" fill="none" stroke="#9e1a3d" stroke-width="1.1"/>
<circle cx="419.5" cy="489.5" r="2.0" fill="none" stroke="#9e1a3d" stroke-width="1.1"/>
<circle cx="419.5" cy="505" r="2.0" fill="none" stroke="#9e1a3d" stroke-width="1.1"/>
<line x1="413.25" y1="486.75" x2="427" y2="486.75" stroke="#000" stroke-width="1.3"/>
<rect x="440.65" y="470.15" width="3.7" height="3.7" fill="none" stroke="#2c416f" stroke-width="1.1"/>
<rect x="437.65" y="475.65" width="3.7" height="3.7" fill="none" stroke="#2c416f" stroke-width="1.1"/>
<rect x="434.4" y="476.4" width="3.7" height="3.7" fill="none" stroke="#2c416f" stroke-width="1.1"/>
<rect x="437.65" y="482.65" width="3.7" height="3.7" fill="none" stroke="#2c416f" stroke-width="1.1"/>
<rect x="437.65" y="506.4" width="3.7" height="3.7" fill="none" stroke="#2c416f" stroke-width="1.1"/>
<line x1="432.5" y1="484.25" x2="446.25" y2="484.25" stroke="#000" stroke-width="1.3"/>
<path d="M459.5 476.45L461.95 480.55L457.05 480.55Z" fill="none" stroke="#68a640" stroke-width="1.0" stroke-linejoin="round"/>
<path d="M459.5 505.2L461.95 509.3L457.05 509.3Z" fill="none" stroke="#68a640" stroke-width="1.0" stroke-linejoin="round"/>
<path d="M463 505.2L465.45 509.3L460.55 509.3Z" fill="none" stroke="#68a640" stroke-width="1.0" stroke-linejoin="round"/>
<path d="M459.5 517.7L461.95 521.8L457.05 521.8Z" fill="none" stroke="#68a640" stroke-width="1.0" stroke-linejoin="round"/>
<path d="M459.5 550.2L461.95 554.3L457.05 554.3Z" fill="none" stroke="#68a640" stroke-width="1.0" stroke-linejoin="round"/>
<line x1="452.5" y1="513.25" x2="466.25" y2="513.25" stroke="#000" stroke-width="1.3"/>
<path d="M477.1 484.5L481.9 484.5L479.5 488.45Z" fill="none" stroke="#431d52" stroke-width="1.05" stroke-linejoin="round"/>
<path d="M480.85 490.75L485.65 490.75L483.25 494.7Z" fill="none" stroke="#431d52" stroke-width="1.05" stroke-linejoin="round"/>
<path d="M473.85 495.25L478.65 495.25L476.25 499.2Z" fill="none" stroke="#431d52" stroke-width="1.05" stroke-linejoin="round"/>
<path d="M477.1 495.25L481.9 495.25L479.5 499.2Z" fill="none" stroke="#431d52" stroke-width="1.05" stroke-linejoin="round"/>
<path d="M477.6 526.25L482.4 526.25L480 530.2Z" fill="none" stroke="#431d52" stroke-width="1.05" stroke-linejoin="round"/>
<line x1="473" y1="500" x2="487" y2="500" stroke="#000" stroke-width="1.3"/>
<line x1="439.5" y1="450" x2="480.5" y2="450" stroke="#000" stroke-width="1.3"/>
<line x1="439.5" y1="448.3" x2="439.5" y2="451.7" stroke="#000" stroke-width="1.4"/>
<line x1="480.5" y1="448.3" x2="480.5" y2="451.7" stroke="#000" stroke-width="1.4"/>
<circle cx="460" cy="444.6" r="1.2" fill="#000"/>
<line x1="415" y1="460.5" x2="457" y2="460.5" stroke="#000" stroke-width="1.3"/>
<line x1="415" y1="458.8" x2="415" y2="462.2" stroke="#000" stroke-width="1.4"/>
<line x1="457" y1="458.8" x2="457" y2="462.2" stroke="#000" stroke-width="1.4"/>
<circle cx="435.75" cy="455.1" r="1.2" fill="#000"/>
<rect x="0" y="0" width="520" height="1.3" fill="#000"/><rect x="0" y="0" width="1.45" height="621" fill="#000"/><rect x="518.4" y="0" width="1.6" height="621" fill="#000"/><rect x="0" y="619.4" width="520" height="1.6" fill="#000"/>
</svg>
</body></html>
